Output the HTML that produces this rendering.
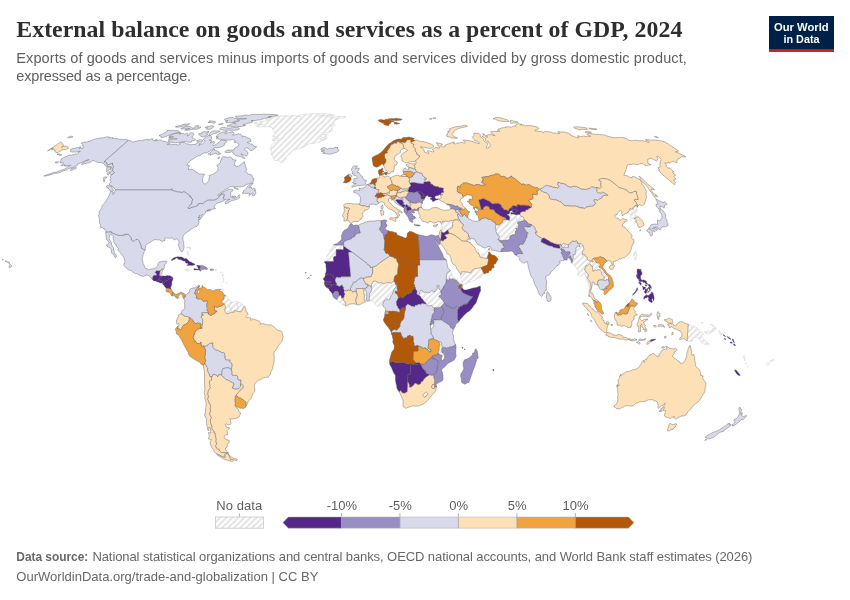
<!DOCTYPE html>
<html lang="en"><head><meta charset="utf-8"><title>External balance on goods and services as a percent of GDP, 2024</title>
<style>
html,body{margin:0;padding:0;background:#fff;}
body{width:850px;height:600px;overflow:hidden;position:relative;font-family:"Liberation Sans",sans-serif;}
svg{position:absolute;left:0;top:0;display:block;will-change:transform;transform:translateZ(0)}
text{font-family:"Liberation Sans",sans-serif;fill:#5b5b5b}
.title{font-family:"Liberation Serif",serif;font-weight:bold;font-size:23.8px;fill:#2e2e2e}
.sub{font-size:14.5px;fill:#606060}
.foot{font-size:13px;fill:#686868}
.leg{font-size:13px;fill:#5e5e5e}
.logo{font-weight:bold;font-size:11.4px;fill:#fff}
.c0 path{fill:#542788}.c1 path{fill:#998ec3}.c2 path{fill:#d8daeb}.c3 path{fill:#fee0b6}.c4 path{fill:#f1a340}.c5 path{fill:#b35806}
.nd path{fill:url(#hatch)}
#map path{stroke:#555;stroke-width:.4;stroke-linejoin:round}
#map .nd path{stroke:#cfcfcf;stroke-width:.5}
</style></head><body>
<svg width="850" height="600" viewBox="0 0 850 600">
<defs>
<pattern id="hatch" patternUnits="userSpaceOnUse" width="18" height="18"><rect width="18" height="18" fill="#fff"/><path d="M2.00,-2L-2,2.00M8.00,-2L-2,8.00M14.00,-2L-2,14.00M20.00,-2L-2,20.00M26.00,-2L-2,26.00M32.00,-2L-2,32.00M38.00,-2L-2,38.00" stroke="#e5e5e5" stroke-width="2" fill="none"/></pattern>
<pattern id="hatchL" patternUnits="userSpaceOnUse" width="18" height="18"><rect width="18" height="18" fill="#fff"/><path d="M2.00,-2L-2,2.00M8.00,-2L-2,8.00M14.00,-2L-2,14.00M20.00,-2L-2,20.00M26.00,-2L-2,26.00M32.00,-2L-2,32.00M38.00,-2L-2,38.00" stroke="#e5e5e5" stroke-width="2" fill="none"/></pattern>
</defs>
<rect width="850" height="600" fill="#fff"/>
<text class="title" x="16.3" y="37.4" textLength="666" lengthAdjust="spacing">External balance on goods and services as a percent of GDP, 2024</text>
<text class="sub" x="16.3" y="63.4" textLength="670.5" lengthAdjust="spacing">Exports of goods and services minus imports of goods and services divided by gross domestic product,</text>
<text class="sub" x="16.3" y="81" textLength="174.8" lengthAdjust="spacing">expressed as a percentage.</text>
<g id="logo"><rect x="769" y="16" width="65" height="36" fill="#002147"/><rect x="769" y="49.2" width="65" height="2.8" fill="#ce261e"/>
<text class="logo" x="801.3" y="30.6" text-anchor="middle" textLength="54.6" lengthAdjust="spacingAndGlyphs">Our World</text>
<text class="logo" x="801.5" y="42.6" text-anchor="middle" textLength="36" lengthAdjust="spacingAndGlyphs">in Data</text></g>
<g id="map">
<g class="nd"><path d="M450.3,270.3L452.4,275.5L453.7,277.6L454.6,278.1L457.2,279.4L460.1,282.8L461.7,284.1L461,284.8L460,284.5L459.2,283.7L458.2,282.2L457.2,281.3L456.5,280.4L454.5,279.4L452.9,279.3L452.3,278.8L451,279.4L449.6,278.2L449,280.2L446.3,279.6L446,278.6L446.8,274.7L446.9,273L447.6,272.2L449.3,271.8Z"/><path d="M380.3,305.8L379.4,305.5L378.4,306.3L376.6,306.1L375.4,304.5L374.5,302.7L372.9,300.8L371.3,300.8L369.2,300.9L369.3,296.7L369.3,295.1L369.7,293.4L370.4,292.6L371.5,291L371.3,290.3L371.7,289.3L371.3,286.8L371.4,284.5L372.1,283.4L372.4,282L373,281.4L375.4,281.1L377.8,282.1L378.6,283L379.8,283.1L380.9,282.5L383.6,283.8L384.8,283.7L386.1,282.6L387.5,282.7L388.2,282.3L389.4,282.5L391.2,283.2L392.9,281.8L394.1,281.5L395.5,283.1L395.5,283.9L395.5,284.8L396.4,285.7L396.2,286.2L396.1,287.1L394.1,289.1L393.6,290.8L393.3,292.1L392.8,292.7L392.3,294.5L391.1,295.6L390.7,296.9L390.2,298L390,299.1L388.5,300L387.2,298.9L386.3,298.9L384.9,300.5L384.3,300.5L383.2,303L382.6,304.8Z"/><path d="M367.3,301.3L365.4,301.8L364.9,300.9L364.3,299.3L364.1,297.9L364.6,295.6L364.1,294.6L363.9,292.6L363.8,290.7L362.9,289.3L363,288.5L365.1,288.6L364.8,290L365.5,290.7L366.3,291.6L366.4,292.9L366.8,293.5L366.7,299.5Z"/><path d="M342.3,304.8L340.2,302.7L338.2,301.3L336.7,299.6L337.2,298.7L337.3,298L338.4,296.6L339.5,295.3L340.2,295.1L340.6,295L341.5,296.6L341.4,297.6L341.8,298.2L342.5,298.2L342.9,297.2L343.6,297.2L343.5,298L343.7,299.3L343.2,300.4L343.9,301.1L344.6,301.3L345.6,302.4L345.6,303.4L345.4,303.7L345.2,305.9Z"/><path d="M324.4,262.4L324.5,261.3L324.7,260.1L325.5,259.4L326.3,258.1L326.2,257.2L327,255.3L328.3,253.7L329.1,253.3L329.7,251.7L329.8,250.3L330.7,248.7L332.2,247.8L333.6,245.1L343.7,245.1L343.6,246L343.5,249.7L336.2,249.6L336.1,256.3L334,256.5L333.4,257.8L333.8,261.6L324.9,261.6Z"/><path d="M427.4,392.9L428.1,393.7L427.3,395L426.9,395.8L425.6,396.3L425.2,397.1L424.3,397.4L422.8,395.3L424.1,393.7L425.4,392.7L426.5,392.1Z"/><path d="M439,353.8L437.8,353.1L438.6,350.7L439.3,349.8L438.9,347.6L439.5,345.5L439.9,344.8L439.3,342.6L438.3,341.4L440.5,341.9L441,342.6L441.7,343.8L442.3,347.4L441.6,349.4L442.1,352.8L442.9,352.7L443.7,353.6L444.6,355.5L444.6,358.8L443.6,359.4L442.8,361.2L441.4,359.6L441.3,357.7L441.9,356.5L441.8,355.5L440.9,354.8L440.2,355Z"/><path d="M430.6,329.1L430.5,325.9L429.9,324.7L431.3,324.9L432.1,323.4L433.3,323.6L433.4,324.6L433.9,325.2L433.9,326.1L433.3,326.6L432.4,328L431.6,328.9Z"/><path d="M441.4,306.2L440,307.4L438.4,307.4L436.5,308L435,307.4L434.1,308.1L432,306.4L431.5,305.3L430.2,305.8L429.1,305.7L428.5,306.1L427.5,305.8L426.1,303.6L425.7,302.8L424,301.8L423.3,300.2L422.4,299.1L420.8,297.7L420.8,296.8L419.5,295.8L417.9,294.8L418.6,294.5L419.4,294L419.9,291.7L420.6,290.5L422.2,290.1L422.6,290.8L423.8,292.4L424.5,292.6L425.3,292.1L426.9,292.2L427.3,292.7L429.6,292.7L429.6,292.2L430.8,291.7L431,291L431.9,290.4L433.8,291.9L435,291.7L436.1,289.8L437.3,288.4L437.1,286.8L436.5,286L437.9,285.9L438,285.3L439.1,285.5L438.9,287.4L439.2,289.3L440.4,290.3L440.7,291.2L441,292.3L441.1,294.6L440.8,295.4L439.6,295.5L438.8,297L440.2,297.2L441.4,298.4L441.8,299.5L442.9,300.1L444.3,302.9L442.8,304.6Z"/><path d="M225.6,295.4L227.1,296.4L228.4,298.1L228.5,299.5L229.3,299.5L230.5,300.8L231.4,301.7L231,304.1L229.6,304.7L229.7,305.3L229.2,306.7L230.2,308.6L230.9,308.6L231.5,310.7L232.6,312.3L232,312.4L230.7,312.2L230,312.9L228.9,313.4L228.2,313.5L227.9,314L226.8,313.9L225.4,312.6L225.2,311.4L224.7,310.1L225.1,307.9L225.7,307L225.2,305.8L224.5,305.4L224.8,304.2L224.3,303.6L223.1,303.7L221.6,301.7L222.2,301L222.2,299.8L223.6,299.4L224.2,298.9L223.5,297.9L223.7,297Z"/><path d="M231.4,301.7L234.1,302.2L234.4,301.8L236.3,301.5L238.7,302.3L237.5,304.5L237.6,306.3L238.5,307.8L238.1,309L237.8,310.2L237.2,311.3L235.9,310.7L234.8,311L233.9,310.7L233.7,311.5L234,312L233.8,312.5L232.6,312.3L231.5,310.7L230.9,308.6L230.2,308.6L229.2,306.7L229.7,305.3L229.6,304.7L231,304.1Z"/><path d="M238.7,302.3L239.5,302.5L241.2,303.2L243.6,305.4L243.9,306.4L242.5,308.8L241.8,310.8L240.9,311.8L239.8,311.9L239.5,311.2L239,311.1L238.2,311.8L237.2,311.3L237.8,310.2L238.1,309L238.5,307.8L237.6,306.3L237.5,304.5Z"/><path d="M221.4,289.2L222.8,288.9L223.2,288.9L223.1,290.9L221.1,291.2L220.7,290.9L221.4,290.2Z"/><path d="M298.8,115.1L304,114.2L308.7,114.3L310.8,113.7L315.6,113.6L326.3,113.8L334.4,115L331.7,115.6L326.4,115.6L318.9,115.8L319.4,116.1L324.4,115.9L328.4,116.4L331.3,116L332.2,116.5L330.4,117.5L334.2,116.9L341.1,116.2L345.2,116.5L345.9,117.2L339.9,118.4L339,118.8L334.3,119.1L337.6,119.2L335.6,120.5L334.1,121.7L333.7,123.9L335.2,125.1L332.8,125.2L330.1,125.8L332.7,126.9L332.7,128.6L331,128.7L332.6,130.5L329.1,130.7L330.7,131.5L330.1,132.2L327.8,132.6L325.5,132.6L327.2,134L327,134.9L324,134L323.1,134.6L325.1,135.1L327,136.4L327.2,138.2L324.2,138.6L323.1,137.8L321.4,136.5L321.6,138L319.4,139.1L323.7,139.2L326,139.3L321.1,141.2L316.2,143L311,143.7L309.2,143.8L307.2,144.6L304.1,147L299.9,148.6L298.7,148.7L296.2,149.2L293.6,149.8L291.6,151.2L291,152.8L289.7,154.3L286.1,156.2L286.3,158L284.8,160L283.1,162.3L280.5,162.5L278.4,160.5L274.8,160.5L273.5,159.2L273.1,156.9L271.2,154L270.9,152.5L271.5,150.4L270,148.3L271.4,146.6L270.6,145.9L273.5,143.2L276.4,142.4L277.5,141.5L278.6,139.8L276.3,140.6L275.3,140.9L273.6,141.2L271.9,140.5L272.5,139L273.8,137.8L275.3,137.8L278.4,138.4L276.2,137L275.2,136.3L273.4,136.6L272.3,136.1L275.2,134.1L274.6,133.3L274.2,131.8L273.6,129.7L272.1,128.9L272.7,128L269.4,126.9L266.2,126.7L262.1,126.8L258.3,126.9L257,126.3L255.4,125.1L259.9,124.5L263,124.4L257,123.9L254.3,123.1L255.3,122.3L261.7,121.4L267.8,120.5L269,119.9L265.7,119.2L267.5,118.5L273.5,117.4L275.7,117.2L275.7,116.5L279.4,116L283.9,115.8L288.1,115.8L289.3,116.3L293.6,115.4L296.5,116L298.3,116.1L300.9,116.6L298.1,115.8Z"/><path d="M186.7,269L188.2,269.2L189.4,269.9L189.7,270.6L188.1,270.6L187.3,271.1L186.1,270.6L184.9,269.7L185.3,269.1L186.2,268.9Z"/><path d="M187.5,251.5L188.2,251.5L188.8,253.8L187.9,255.4L186.8,253Z"/><path d="M189.1,247L190.8,247.8L190.1,249.6L190,248.1L188.6,247.6Z"/><path d="M186.6,247.3L188.9,247.4L188.5,247.9L186.5,247.9Z"/><path d="M440,230.9L440.5,228.7L441.4,226.8L442.4,226.9L442.9,228L441.8,229L441.4,230.4L440.9,230.4L440.7,230.9Z"/><path d="M441.6,231.3L441.4,230.4L441.8,229L442.9,228L442.4,226.9L441.4,226.8L441,224.8L441.4,223.7L441.9,223.2L442.4,222.6L442.3,221.1L443.1,221.7L445.4,220.9L446.6,221.4L448.3,221.4L450.7,220.4L451.8,220.5L454.2,220.1L453.4,221.7L452.3,222.3L452.8,224.2L452.4,227.4L447.9,230.1L443.9,232.9L441.4,231.9Z"/><path d="M637.5,207.1L637,207L636.6,207.8L636.4,208.7L637.6,210.6L636.8,211.1L636.6,211.6L636.3,212.4L635.1,212.8L634.5,213.5L635,214.6L634.9,214.9L636,215.3L637.8,216.5L637,217.3L635.5,217.4L635.2,218.6L634.2,218.5L634.2,218.7L632.9,218.2L632.9,218.7L632.4,218.9L632.1,218.4L631.4,218.2L630.6,217.8L630.7,216.6L631,216.3L630.6,215.9L630.4,214.4L630.1,214L628.7,213.7L627.3,213L628.2,211.4L629.8,210L630.2,208.1L631.7,209L633.6,209.1L632.5,207.7L635.1,206.6L635,205.1L637.3,206.6Z"/><path d="M589.4,291.4L589,289.4L589.5,287.4L588.6,285.9L588.5,283L587.5,281.7L586.4,278.5L585.6,275.2L584.3,273.1L583,274.4L580.6,276.3L579.3,276L577.8,275.4L578.2,272.2L577.4,269.7L575.2,266.7L575.4,265.8L574,265.4L572.1,263.3L571.6,261.2L572.5,261.6L572.2,259.7L573.3,259.1L572.9,258L573.3,257.1L572.9,254.4L574.8,255L575.4,252.8L575.3,251.6L576.1,249.4L575.7,247.9L578.3,246.1L580,246.6L579.4,244.9L580.1,244.5L579.7,243.5L580.9,243.3L582.1,244.8L583.2,245.4L583.7,247.5L584,249.6L582.3,251.8L582.6,254.9L584.9,254.5L585.9,256.9L587.4,257.4L587,259.5L588.9,260.5L589.9,261L591.5,260.2L590.1,263L589.7,264L588.5,264.6L587.4,265.7L585.8,265.8L585.2,268.6L584.3,269.1L585.7,271.4L587.4,273.3L588.5,275L588,277.3L587.3,277.8L587.9,279.1L589.7,281.2L590.1,282.6L590.2,283.9L591.3,286.2L590.3,288.7Z"/><path d="M469.3,239L469.9,240.2L469.7,240.7L470.7,242.7L469.1,242.8L468.4,241.6L466.4,241.3L467.8,238.8Z"/><path d="M477.1,252.7L476.8,250.7L477.2,249.4L477.8,249.1L478.6,249.9L478.8,251.4L478.5,253L477.8,253.2Z"/><path d="M479,254L479.4,253.9L479.5,254.6L481.2,254.1L483.1,254.2L484.5,254.3L485.8,252.5L487.3,250.8L488.6,249.2L489.1,250.1L489.6,252.2L488.5,252.2L488.5,253.9L488.9,254.3L487.9,254.8L488,255.9L487.5,256.9L487.5,258L487.1,258.5L480.2,257.2L479.1,254.6Z"/><path d="M484,273.8L482.4,274.5L482.1,275.7L482.1,276.6L479.9,277.6L476.3,278.9L474.3,280.7L473.3,280.9L472.6,280.7L471.4,281.8L469.9,282.3L468,282.4L467.5,282.6L467,283.3L466.4,283.5L466.1,284.1L464.9,284.1L464.2,284.4L462.6,284.3L461.9,282.8L461.9,281.3L461.5,280.6L461,278.6L460.3,277.6L460.8,277.4L460.4,276.2L460.7,275.7L460.5,274.6L461.5,273.8L461.2,272.7L461.7,271.4L462.7,272.1L463.3,271.8L465.9,271.8L466.4,272L468.6,272.3L469.4,272.2L470.1,273L471.1,272.6L472.5,269.8L474.6,268.7L481.1,267.7L483.2,272Z"/><path d="M497.9,239.4L499.5,237L499,235.3L497.3,234.9L496.8,233.2L495.7,231.2L496.4,229.7L495.4,229.3L495.6,227.4L495.8,224.2L498.2,225.2L499.8,224.8L500,223.6L501.6,223.2L502.6,222.5L502.6,220.4L504.3,219.9L504.4,218.9L505.6,219.7L506.2,219.7L507.4,219.7L509.2,220.3L509.9,220.6L511.3,219.8L512.1,220.3L512.5,219.1L513.8,219.1L514,218.7L514,217.7L514.7,216.8L516,217.4L516,218.2L516.7,218.3L517,220.5L518.1,221.3L518.7,220.8L519.6,220.5L520.6,219.4L522.2,219.6L524.4,219.6L524.7,220.1L524.8,220.4L523.8,220.6L522.9,221.1L520.5,221.4L518.3,221.9L517.3,223.1L518.1,224.2L518.7,225.5L517.9,226.6L518.2,227.6L517.8,228.5L515.7,228.4L517,230.2L515.7,230.8L515.1,232.4L515.6,234L514.9,234.7L514,234.5L512.4,234.8L512.3,235.5L510.6,235.5L509.7,237L510,239.2L507.3,240.3L505.7,240.1L505.4,240.7L504,240.3L501.8,240.7Z"/><path d="M524.4,219.6L522.2,219.6L520.6,219.4L519.6,220.5L518.7,220.8L518.1,221.3L517,220.5L516.7,218.3L516,218.2L516,217.4L514.7,216.8L514,217.7L514,218.7L513.8,219.1L512.5,219.1L512.1,220.3L511.3,219.8L509.9,220.6L509.2,220.3L509.7,217.6L508.8,215.7L507,215.1L507.3,214L509.1,214.1L509.7,212.6L509.9,211L512.5,210.4L512.4,211.6L513,212.3L513.8,212.2L513.3,213L510.8,212.6L511,214.1L513.3,213.9L516.2,214.7L520.1,214.3L521.3,216.7L522,216.5L523.4,217.1L523.7,218.1Z"/><path d="M591.5,260.2L591.7,261.3L592,261.9L593.2,262L592.4,259L593.5,258.6L595.2,260.7L596.6,263L599.4,263.1L600.6,265.3L599.3,266.1L598.8,267L601.7,268.5L604.1,271.6L605.9,273.9L607.8,275.7L608.6,277.6L608.5,280.2L606.4,279.2L605.6,281L603.6,280L604.2,278.9L604,276.6L601.9,274.4L601.4,271.8L599.3,269.7L597.6,269.5L597.2,270.4L595.9,270.5L595.2,270L593,271.6L592.6,269.2L592.8,266.5L591.2,266.3L590.8,264.8L589.7,264L590.1,263Z"/><path d="M561.3,246L562.3,244.1L563.4,243.4L565.1,244L566.3,244.1L567.4,244.8L568.5,245.6L568.7,247.2L566.9,247.3L565,247.1L563.6,247.5L561.4,246.5Z"/><path d="M636.7,253.6L636.2,257.8L635.7,259.9L634.1,257.7L633.4,255.8L634.2,253.2L635.6,251.2L636.8,252Z"/><path d="M688.2,324.1L692.1,325.9L696.3,327.4L697.8,328.7L699,330L699.3,331.6L703,333.2L703.5,334.6L701.3,334.9L701.7,336.6L703.6,338.3L704.8,341.1L706.2,341L706,342.1L707.7,342.6L706.9,343.1L709.3,344.2L708.9,344.9L707.4,345.1L706.9,344.4L704.9,344.2L702.7,343.8L701.1,342.1L699.9,340.7L698.9,338.4L696,337.2L694,338L692.5,338.8L692.6,340.8L690.8,341.7L689.5,341.2L687.1,341.1Z"/><path d="M714.1,328.6L714,330L713.1,331.6L711.9,331.8L711.5,332.6L710.2,333.2L708.9,333.8L707.7,333.8L705.9,333.1L704.6,332.3L704.9,331.5L706.9,331.9L708.2,331.7L708.9,330.4L709.1,331.7L710.4,331.6L711.1,330.6L712.5,329.7L712.3,328.2L713.7,328.1Z"/><path d="M710.5,324.5L713.1,325.1L714.1,325.8L715.8,327.7L715.9,329.1L715.2,329.8L714.8,328.2L714.4,327.2L713.4,326.3L712.1,325.2Z"/><path d="M719.5,331.2L720.2,331.8L721.2,333.5L722.2,334.4L721.8,335.1L721.2,335.4L720.2,334.4L719.4,332.7L719,330.7L719.3,330.5Z"/><path d="M701.2,322.5L703,322.5L702.5,323.2L701.2,323Z"/><path d="M744.5,358.8L745.6,360.3L744.8,360.7L744.3,359.5Z"/><path d="M743.6,358.2L743.5,357.5L743.8,355.5L744.8,356.3L744.7,358.4L744.2,358.1Z"/><path d="M745.8,363L746.6,363.5L745.8,363.9Z"/><path d="M747.3,366.1L747.7,366.7L746.9,366.8Z"/><path d="M769.1,362.6L769.7,363.4L768.9,364.7L767.4,365.1L766.3,364.7L766.4,363.6L767.4,362.7L768.4,363Z"/><path d="M770,360.8L771.3,360.2L772,360.1L773.6,359.3L773.3,360.6L771.7,361.2L770.1,361.7Z"/><path d="M378,316.3L378.6,316.5L378.2,317.2L377.9,316.8Z"/><path d="M223.4,278.4L224.1,278.8L223.9,279.7L223.3,279.4Z"/><path d="M222.1,274.7L223.5,274.3L223.2,275.5L222.2,275.6Z"/><path d="M222.7,276.6L223.2,276.7L223,277.5L222.8,277.5Z"/><path d="M223.3,280.6L223.7,280.7L223.5,281.5L223.2,281.3Z"/><path d="M226.5,282.6L226.9,282.8L226.8,283.2L226.4,283.1Z"/><path d="M222.7,282.4L223.1,282.6L223,283.1L222.7,283Z"/><path d="M221.4,285.4L221.8,285.4L221.7,286L221.3,286Z"/><path d="M215.5,269.2L216.2,269.2L215.8,271.1Z"/><path d="M219.8,271.9L220.5,272.1L220.4,272.6Z"/><path d="M222,272.5L222.6,272.6L222.4,272.9Z"/></g>
<g class="c0"><path d="M462,287.4L464,289.9L466.3,289.9L469.7,289.1L473.1,288L476.5,287.5L479.5,286.2L480.5,286.3L480.3,289.6L481,290.1L479.7,292.5L478.5,295.9L477.4,299L475.9,302.9L473.6,305.8L471.4,308.9L469.1,311.3L467.5,312.1L464.5,314.7L461.8,317.8L459.9,319.7L458.9,321.7L457.6,319.5L457.5,310L459.5,307.1L460.1,306.3L461.6,306.2L463.6,304.3L466.6,304.2L472.9,296.4L471,296.4L463.4,293.3L462.5,292.4L461.6,291.1L460.7,289.7L461.2,288.8Z"/><path d="M399.3,392L397.8,389.9L396.9,388.1L396.6,385.5L396,383.6L395.4,379.7L395.5,376.6L395.3,375L394.4,374L393.3,371.9L392,368.8L390.7,366.1L389.8,364.6L389.7,362.5L390.8,362L392.2,361.5L393.7,361.6L395,362.8L395.3,362.6L404.6,362.5L406.1,363.8L411.6,364.1L415.8,363.1L417.7,362.5L419.2,362.6L420.1,363.2L420.5,363.8L418.8,364L418.1,364L416.6,365L415.8,364L412.2,364.9L410.5,365L410.2,374.3L407.9,374.4L407.7,381.1L407.7,382L407.7,382.9L407.3,391.6L405.2,393L404,393.2L402.7,392.7L401.7,392.5L401.3,391.4L400.5,390.6Z"/><path d="M342.9,297.2L342.5,298.2L341.8,298.2L341.4,297.6L341.5,296.6L340.6,295L340.2,295.1L339.5,295.3L338.8,295.4L338.9,294.5L338.5,293.8L338.6,293.1L338.1,292L337.5,291L335.6,291L335.1,291.5L334.4,291.6L334.1,292.2L333.8,292.9L332.5,294.1L331.5,292.5L330.7,291.5L330.1,291.2L329.5,290.7L329.3,289.5L328.3,288.5L329.3,287.2L330,287.2L330.6,286.8L331.1,286.8L331.5,286.5L331.3,285.6L331.6,285.3L331.6,284.4L332.7,284.4L334.4,285.1L334.9,285L335,284.7L336.3,284.9L336.6,284.8L337.1,285.7L337.7,285.4L338.1,285.5L338.7,286.2L339.7,286.4L340.3,285.8L341.1,285.5L341.6,285.1L342.1,285.1L342.6,285.7L342.8,286.5L343.8,287.5L343.3,288.2L343.2,289.1L343.7,288.8L344,289.1L343.9,289.9L344.6,290.6L344.1,291L343.9,291.7L344.4,292.8L345,294.9L344.1,295.2L343.9,295.6L344.1,296.1L344,297.2L343.6,297.2Z"/><path d="M328.3,288.5L327.1,287.4L326.1,287.2L325.6,286.5L325.6,286.1L325,285.5L324.8,285L326,284.5L326.8,284.6L327.4,284.3L331.6,284.4L331.6,285.3L331.3,285.6L331.5,286.5L331.1,286.8L330.6,286.8L330,287.2L329.3,287.2Z"/><path d="M324.8,285L324.4,283L326.5,283L327.1,282.6L327.5,282.6L328.4,282L329.3,282.6L330.3,282.6L331.3,282L330.9,281.3L330.1,281.7L329.4,281.7L328.5,281L327.8,281.1L327.3,281.7L324.8,281.8L323.9,279.7L322.8,278.9L323.7,278.4L324.9,276.6L325.5,275.1L325.3,273.8L326.3,274.3L327.4,274.5L328.5,274L329.8,273.9L330.9,274.7L332.3,275.4L333.7,277.3L335.2,279.1L335.3,280.8L335.7,282.2L336.6,283L336.7,284L336.6,284.8L336.3,284.9L335,284.7L334.9,285L334.4,285.1L332.7,284.4L331.6,284.4L327.4,284.3L326.8,284.6L326,284.5Z"/><path d="M324.4,283L324.8,281.8L327.3,281.7L327.8,281.1L328.5,281L329.4,281.7L330.1,281.7L330.9,281.3L331.3,282L330.3,282.6L329.3,282.6L328.4,282L327.5,282.6L327.1,282.6L326.5,283Z"/><path d="M325.3,273.8L326,272.5L326.3,270L326.1,267.4L325.9,266.1L326.1,264.8L325.6,263.6L324.4,262.4L324.9,261.6L333.8,261.6L333.4,257.8L334,256.5L336.1,256.3L336.2,249.6L343.5,249.7L343.6,246L352,252.1L348.5,252.1L349.5,263.4L350.5,274.6L350.9,275L350.4,276.8L341.2,276.8L340.9,277.4L340,277.3L338.7,277.8L337.1,277L336.4,277.1L336,278.6L335.2,279.1L333.7,277.3L332.3,275.4L330.9,274.7L329.8,273.9L328.5,274L327.4,274.5L326.3,274.3Z"/><path d="M398.7,297.7L400.5,297.1L400.9,297.1L401.4,297.7L404.3,296.7L405.3,295.7L406.5,294.8L406.2,293.8L406.9,293.6L409.1,293.8L411.3,292.5L412.9,289.7L414,288.6L415.4,288.2L415.7,289.3L417.1,290.9L417.1,292L416.8,293.1L416.9,293.9L417.7,294.7L417.9,294.8L419.5,295.8L420.8,296.8L420.8,297.7L422.4,299.1L423.3,300.2L424,301.8L425.7,302.8L426.1,303.6L425.3,303.9L423.8,303.8L422.1,303.6L421.2,303.8L420.9,304.4L420.2,304.5L419.2,304L416.7,305.3L415.6,305L415.3,305.2L414.7,306.8L412.9,306.3L411.2,306L409.8,305L407.9,304.2L406.6,305L405.7,306.3L405.5,308.2L404.1,308L402.5,307.6L401.1,308.9L399.9,311.4L399.7,310.6L399.6,309.4L398.5,308.6L397.7,307.2L397.5,306.3L396.4,304.9L396.5,304.2L396.3,303.1L396.5,301L397,300.6L398.2,297.9Z"/><path d="M407.7,381.1L407.9,374.4L410.2,374.3L410.5,365L412.2,364.9L415.8,364L416.6,365L418.1,364L418.8,364L420.5,363.8L421.3,365.7L421.7,366.2L422.4,367.7L424.8,370.6L425.8,370.8L425.7,371.8L426.3,373.4L428.1,373.8L429.4,375L426.2,376.9L424.1,378.9L423.2,380.6L422.5,381.6L421.3,381.8L420.8,383L420.5,383.9L419.1,384.5L417.3,384.4L416.2,383.6L415.3,383.3L414.2,383.9L413.6,385.2L412.5,385.9L411.3,387.1L409.7,387.4L409.2,386.5L409.5,384.9L408.3,382.4L407.7,382Z"/><path d="M160.1,275.8L160.8,276.3L161,275.9L161.7,276.2L160.5,277.2L159.4,277.9L159.1,278.5L159.3,279L158.7,279.6L158.2,279.8L158.3,280.1L157.8,280.4L157,281L156.9,281.4L155.7,281L154.3,280.9L153.3,280.4L152.2,279.3L152.3,278.6L152.7,278L152.4,277.5L153.7,275.3L156.7,275.3L156.8,274.4L156.5,274.3L156.3,273.7L155.5,273.1L154.8,272.2L155.8,272.2L156,270.8L158.1,270.8L160.2,270.8L159.4,275.8Z"/><path d="M161.7,276.2L161.9,276.3L162.5,275.9L163.1,275.8L163.3,276L163.7,275.9L164.7,276.1L165.8,276.1L166.5,275.8L166.8,275.5L167.5,275.6L168.1,275.8L168.7,275.7L169.2,275.5L170.1,275.9L170.5,275.9L171.2,276.4L171.8,277L172.5,277.4L173.1,278.1L172.3,278.1L171.9,278.4L171.1,278.8L170.5,278.8L170,279.1L169.6,279L169.2,278.6L169,278.7L168.6,279.3L168.4,279.3L168.3,279.8L167.4,280.5L167,280.8L166.7,281.1L166.1,280.6L165.5,281.3L165.1,281.3L164.5,281.4L164.5,282.7L164.1,282.7L163.8,283.3L163,283.4L162.7,282.6L162.1,282.4L162.3,281.3L162,281L161.6,280.8L160.6,281.1L160.5,280.8L159.8,280.4L159.4,279.8L158.7,279.6L159.3,279L159.1,278.5L159.4,277.9L160.5,277.2Z"/><path d="M172.9,278.4L172.7,279L172.8,279.9L172.2,280.8L171.9,281.9L171.7,283L171.8,283.7L171.7,284.9L171.4,285.1L171.1,286.2L171.2,286.9L170.6,287.6L170.7,288.3L171,288.7L170.4,289.3L169.8,289.1L169.4,288.6L168.7,288.4L168.2,288.7L166.7,288L166.3,288.3L165.6,287.5L164.6,286.5L164.2,285.6L163.3,284.8L162.2,283.6L162.3,283.5L162.5,283.2L162.8,283.4L162.9,283.6L163,283.4L163.8,283.3L164.1,282.7L164.5,282.7L164.5,281.4L165.1,281.3L165.5,281.3L166.1,280.6L166.7,281.1L167,280.8L167.4,280.5L168.3,279.8L168.4,279.3L168.6,279.3L169,278.7L169.2,278.6L169.6,279L170,279.1L170.5,278.8L171.1,278.8L171.9,278.4L172.3,278.1L173.1,278.1Z"/><path d="M162.1,282.4L161.8,283L160.4,282.9L159.6,282.7L158.7,282.1L157.5,282L156.9,281.4L157,281L157.8,280.4L158.3,280.1L158.2,279.8L158.7,279.6L159.4,279.8L159.8,280.4L160.5,280.8L160.6,281.1L161.6,280.8L162,281L162.3,281.3Z"/><path d="M177.6,256.7L179.6,256.9L181.3,256.9L183.3,257.8L184.1,258.8L186.2,258.5L187,259.1L188.7,260.7L190,261.9L190.7,261.9L192,262.4L191.7,263.1L193.4,263.3L195,264.3L194.6,264.9L193.1,265.3L191.6,265.4L190,265.2L186.7,265.4L188.4,264L187.6,263.3L186.1,263.1L185.5,262.4L185.1,260.9L183.8,261L181.8,260.3L181.2,259.7L178.3,259.3L177.6,258.8L178.5,258.2L176.3,258L174.5,259.4L173.6,259.4L173.2,260.1L172,260.4L171.1,260.1L172.4,259.3L173,258.3L174.1,257.8L175.3,257.3L177.1,257Z"/><path d="M197.1,265.3L200.4,265.8L200.4,267.2L200.2,268.2L199.5,268.7L200.1,269.4L199.9,270.2L198.5,269.7L197.4,269.9L196,269.7L194.9,270.2L193.8,269.4L194.1,268.6L196.1,268.9L197.8,269.1L198.7,268.5L197.8,267.4L197.9,266.4L196.5,266Z"/><path d="M401.7,206.4L401.9,206L402.1,204.6L402.7,204L403.1,203.8L403.7,204.2L404,204.6L404.7,204.8L405.4,205.6L405.1,206.2L404.5,206.4L404.4,205.9L403.6,207.2L403.8,208L403.3,207.8L402.7,207L401.8,206.5Z"/><path d="M440.6,240.6L440.5,240.3L441.2,236.1L441,235L441.3,234.3L441.1,232.7L441.4,231.9L443.9,232.9L447.9,230.1L449.2,233.3L448.8,233.7L444.5,235L447,237.6L446.3,238.1L446.1,238.9L444.4,239.3L444,240.2L443.1,241Z"/><path d="M439.4,194.8L438.2,195.6L436.3,195.7L434.7,196.7L435.1,198.3L436.2,198.9L438.3,198.7L438.1,199.7L435.9,200.1L433.3,201.6L432.1,201.1L432.4,199.9L430,199.1L430.3,198.6L432.1,197.8L431.4,197.2L428.1,196.5L427.8,195.6L426,195.9L425.4,197.3L424.1,199.2L423.1,198.8L422.2,199.2L421.2,198.7L421.7,198.4L421.9,197.5L422.4,196.7L422.2,196.3L422.6,196.1L422.8,196.4L424,196.5L424.5,196.3L424.1,196L424.2,195.7L423.4,195L423,193.9L422.1,193.5L422.2,192.7L421.1,192L420.3,191.9L418.7,191.1L417.4,191.3L416.9,191.7L416.1,191.7L415.7,192.3L414.2,192.6L413.6,192.9L412.5,192.3L411.2,192.3L409.9,192L409.1,192.6L408.9,191.9L407.7,191.2L408,190.2L408.5,189.5L408.7,189.2L408.3,188.5L409.8,186.4L410.8,186.1L410.9,185.4L409.6,183.2L410.5,183.1L411.5,182.5L413,182.4L415,182.6L417.3,183.2L418.9,183.3L419.7,183.6L420.4,183.2L421,183.8L422.8,183.6L423.6,183.9L423.5,182.6L424,182.1L425.7,181.9L426.4,182L426.8,181.5L427.5,181.6L429.4,181.3L431,182.8L430.6,183.3L430.9,184L432.5,184.2L433.5,185.3L433.5,185.7L436.2,186.6L437.7,186.2L439.2,187.4L440.3,187.4L443.5,188.2L443.6,189L443.1,190.3L443.9,191.7L443.7,192.5L441.8,192.7L440.9,193.4L441,194.6Z"/><path d="M509.2,220.3L507.4,219.7L506.2,219.7L505.9,218.1L502.8,217L500.2,215.7L498.5,214.5L495.6,212.7L493.9,210.1L493,209.6L490.8,209.7L489.8,209.2L489.1,207.1L485.9,205.7L484.5,207.2L482.9,208.1L483.6,209.4L481.2,209.5L478.7,199.9L483.5,198.4L484,198.7L487.7,200.5L489.7,201.5L492.4,203.8L494.7,203.4L498.2,203.2L501.3,205.1L501.9,207.7L503,207.7L504,209.8L506.7,209.9L507.7,211.1L508.4,211.1L508.8,209.3L511,207.5L512.1,207L512.8,207.2L511.6,208.9L513.4,209.9L514.7,209.3L517.7,210.6L515.5,212.5L513.8,212.2L513,212.3L512.4,211.6L512.5,210.4L509.9,211L509.7,212.6L509.1,214.1L507.3,214L507,215.1L508.8,215.7L509.7,217.6Z"/><path d="M513.8,212.2L515.5,212.5L517.7,210.6L514.7,209.3L513.4,209.9L511.6,208.9L512.8,207.2L512.1,207L512.2,205.9L513.5,205.5L517.2,206.4L517,204.9L518,204.3L521.4,205.4L522,205.1L525.5,205.2L528.7,205.5L530.1,206.4L531.6,206.8L531.5,207.4L528.6,208.8L528.2,209.8L525.6,210.1L525.4,211.7L523,211.4L521.7,211.9L520.1,213.1L520.1,214.3L516.2,214.7L513.3,213.9L511,214.1L510.8,212.6L513.3,213Z"/><path d="M559.4,244.5L559.5,245.6L560.1,247.3L560,248.3L558.2,248.3L555.4,247.7L553.6,247.5L552.1,246.2L548.9,245.8L545.7,244.3L543.4,243.1L541,242.1L541.4,239.6L542.6,238.5L543.3,237.8L545.3,238.6L547.9,240.3L549.2,240.7L550.2,242L552.1,242.5L554.1,243.6L556.7,244.2Z"/><path d="M411.5,209.4L411.1,209.5L410.8,209.9L409.6,209.9L408.9,210.5L407.5,210.7L406.6,210L406.2,208.9L406.4,208L406.7,207.6L407.9,207.1L408.3,207L410,206.9L411.1,207.7Z"/><path d="M406.1,207.1L405.1,206.2L405.4,205.6L405.9,205.4L406.1,204.5L406.5,204.4L406.8,204.8L407.2,204.9L407.5,205.3L407.9,205.5L408.3,205.9L408.7,205.9L408.5,206.5L408.2,206.9L408.3,207L407.9,207.1L406.7,207.6L406.4,208Z"/><path d="M403.6,203.5L403.1,203.8L402.7,204L402.1,204.6L401.9,206L400,205L399.1,203.9L398.3,203.4L397.2,202.4L396.7,201.6L395.6,200.4L396,199.4L396.7,199.9L397.1,199.4L398.1,199.4L399.9,199.8L401.3,199.7L402.3,200.3L403,200.7L402.7,201.4L403.8,202.4Z"/><path d="M421.2,198.7L420.7,197.5L420.7,196.4L420.5,195.3L419.1,193.8L418.3,192.7L417.6,192L416.9,191.7L417.4,191.3L418.7,191.1L420.3,191.9L421.1,192L422.2,192.7L422.1,193.5L423,193.9L423.4,195L424.2,195.7L424.1,196L424.5,196.3L424,196.5L422.8,196.4L422.6,196.1L422.2,196.3L422.4,196.7L421.9,197.5L421.7,198.4Z"/><path d="M650.3,340.5L650.6,339.9L652.6,339.3L654.2,339.2L655,338.9L655.8,339.2L654.9,339.9L652.4,341.1L650.4,341.8L650.5,341Z"/><path d="M729.8,342.5L731.5,341.9L732.5,343.1L731.6,343.2L730.2,342.9Z"/><path d="M733.1,339L733.7,341.1L734.5,342.4L734.1,342.8L732.6,340.6L732.3,339Z"/><path d="M727.4,336.4L730.2,338.2L730.7,339.1L730.7,339.6L729,338.5L727.8,337.5L727,336.7Z"/><path d="M723.4,334.5L724.7,335.6L725.5,336.5L725.1,336.6L724.1,336.1L723.2,335Z"/><path d="M734.3,343.9L735.2,344.7L735.7,345.6L734.1,345.6L733.4,343.9Z"/><path d="M724.1,338.2L725.5,338.7L726,339.8L724.9,339.5Z"/><path d="M638.7,269L640.2,269.7L640.8,269L641.1,269.7L640.9,270.8L642,272.7L641.8,274.8L640.5,275.7L640.5,277.8L641.3,279.9L642.6,280.2L643.5,279.8L646.6,281.3L646.5,282.7L647.4,283.3L647.3,284.5L645.3,283.3L644.3,281.9L643.8,282.8L642.2,281.3L640.2,281.7L638.9,281.1L638.9,280L639.5,279.3L638.8,278.7L638.6,279.7L637.3,278.2L636.8,277L636.3,274.6L637.4,275.4L637,271.3L637.3,269Z"/><path d="M653.6,295.3L654,297.1L654.2,298.5L653.6,300.9L652.6,298.3L651.6,299.6L652.4,301.5L651.9,302.7L649,301.2L648.3,299.3L648.9,298.1L647.4,296.8L646.7,297.9L645.6,297.8L644,299.3L643.6,298.5L644.3,296.3L645.7,295.6L646.9,294.6L647.8,295.8L649.5,295.1L649.8,293.9L651.4,293.8L651.1,291.8L653.1,293L653.4,294.4Z"/><path d="M637.1,287.6L637.8,289.7L636.4,291.2L635.3,293L632.4,295.4L633.4,293.6L635,292L636.2,290.2Z"/><path d="M650.6,285.5L651.6,288.4L649.8,287.8L649.9,288.6L650.6,290.2L649.6,290.8L649.3,289L648.6,288.9L648.1,287.3L649.5,287.5L649.3,286.5L647.7,284.5L649.9,284.5Z"/><path d="M642.4,286.2L643.9,287.1L645.4,287.1L645.4,288.1L644.5,289.2L643.1,290L642.9,288.8L642.9,287.5Z"/><path d="M644.1,291.9L644.6,291.2L645.1,290.5L645.2,288.9L646.4,288.7L646.2,290.5L647.7,288L647.7,290.4L646.9,291.3L646.4,293L645.7,293.7Z"/><path d="M638.4,282.1L640.3,282.2L641.3,283.2L640.9,285.4L639.8,284.1Z"/><path d="M647.4,292.2L648.7,290.9L649.2,291.7L647.9,292.4Z"/><path d="M645.3,284.6L647,285.4L646.4,286.2L645.4,286Z"/><path d="M738,372.4L739.4,374L740.3,375.2L739.2,375.8L738.2,375.1L736.9,373.9L735.8,372.5L734.8,370.7L734.7,369.8L735.6,369.9L736.7,370.7L737.4,371.6Z"/><path d="M462.1,347.1L462.8,347.3L462.7,348.4L462,348.1Z"/><path d="M464.3,348.9L465.1,349.2L465,349.7L464.3,349.4Z"/><path d="M492.9,369.5L494,369.8L493.8,370.7L492.9,370.8Z"/><path d="M308.7,277.3L309.4,278.1L309.3,278.4L308.6,278.1Z"/><path d="M307,278.5L307.5,278L307.5,278.6Z"/><path d="M305.4,272.6L306.1,272.4L306.1,273L305.4,273.2Z"/><path d="M310.7,275L311.2,275L311.2,275.6L310.6,275.5Z"/></g>
<g class="c1"><path d="M350.1,223.9L351.5,223.5L353.4,225.4L356.5,225.1L358.3,225.4L359.1,227.1L359.2,228.7L360,231.5L360.5,232L360.1,233L357.2,233.5L356.2,234.4L355,234.7L354.9,236.6L352.3,237.6L351.4,238.9L349.6,239.6L347.3,240L343.7,242L343.7,245.1L333.6,245.1L334.9,244.1L337,243.8L338.8,242L339.9,241.3L341.8,239.1L341.4,235.9L342.3,233.6L342.6,232.3L344,230.5L346.3,229.3L347.9,228.2L349.4,225.5Z"/><path d="M381.2,220.8L384.1,219.8L385.2,220.1L386.9,220.5L385.9,222.2L386,223.8L387.1,225.4L386.5,226.7L385.1,228.5L385.6,229.3L387.3,230.4L388.2,230.7L388.1,232.7L387.1,233.5L386.4,234.3L384.9,235.3L385.2,236.4L385,237.5L384,238.1L382.9,233.5L381.5,232.4L381.5,231.8L379.7,230.2L379.4,228.2L380.7,226.8L381.2,224.6L380.8,222.2Z"/><path d="M418.4,234.8L422.6,235.5L427,236.6L429.2,235.5L431.3,234.8L433.6,235.3L435.6,236.1L438.4,235.5L440.4,240.2L439.8,243.9L439.2,244.7L437.8,243.4L436.3,241.6L435.2,239.2L434.9,240.2L435.7,242.1L437.7,244.4L438.7,246.8L440.3,249.9L442.9,254.6L443.2,257L446.3,259.8L419.5,259.8L419.4,258.9L419,250.2L418.5,240.9L417.7,238.8L418.2,237.2L417.7,236.1Z"/><path d="M458.9,321.7L457.6,323L455.7,324.1L455.5,325.9L454.3,328L453.3,329.5L450.1,326.9L449.9,325.4L441.6,320.1L441.2,319.8L441.2,317L441.9,315.9L443,314.2L443.8,312.3L442.8,309.3L442.5,308L441.4,306.2L442.8,304.6L444.3,302.9L445.5,303.4L445.5,304.8L446.3,305.7L448,305.7L450.9,307.9L451.6,307.9L452.2,307.8L452.7,308.2L454.2,308.4L454.9,307.3L457,306.2L457.9,307.1L459.5,307.1L457.5,310L457.6,319.5Z"/><path d="M455.6,344.3L456.1,347.3L455.8,350.2L455.8,354.4L456.2,355.7L455.4,357.8L454,360.1L450.7,362L448.1,363.3L446.9,364.3L445.5,366.1L442.8,368.5L441.9,369L441.6,370.8L442.6,372.9L442.9,375L443,377.6L443.1,379.2L442.6,380.3L441.7,381.3L439.8,382.1L437,383.6L436.1,384.4L436.2,385.5L436.7,385.7L436.4,387.1L434.7,387.1L434.3,384.8L434.2,383.9L434.8,381L434.3,379.1L433.4,375.4L435.9,372.5L436.6,370.6L437,370.3L437.3,368.8L437,368L437.2,366.1L437.7,364.3L437.9,360.9L436.7,360.1L435.6,359.9L435.2,359.3L434.1,358.7L432.2,358.8L432.1,357.8L432,356L439,353.8L440.2,355L440.9,354.8L441.8,355.5L441.9,356.5L441.3,357.7L441.4,359.6L442.8,361.2L443.6,359.4L444.6,358.8L444.6,355.5L443.7,353.6L442.9,352.7L442.1,352.8L441.6,349.4L442.3,347.4L444,347.2L446.7,347.9L447.3,347.6L448.9,347.5L449.8,346.7L451.2,346.8L453.7,345.8Z"/><path d="M339.5,295.3L338.4,296.6L337.3,298L337.2,298.7L336.7,299.6L336.1,299.3L334.5,298.2L333.3,296.9L332.8,296L332.5,294.1L333.8,292.9L334.1,292.2L334.4,291.6L335.1,291.5L335.6,291L337.5,291L338.1,292L338.6,293.1L338.5,293.8L338.9,294.5L338.8,295.4Z"/><path d="M429.4,375L428.1,373.8L426.3,373.4L425.7,371.8L425.8,370.8L424.8,370.6L422.4,367.7L421.7,366.2L421.3,365.7L420.5,363.8L423,363.9L423.7,364.2L424.5,364.2L425.8,362.5L427.9,360.3L428.7,360.1L429,359.2L430.4,358.2L432.1,357.8L432.2,358.8L434.1,358.7L435.2,359.3L435.6,359.9L436.7,360.1L437.9,360.9L437.7,364.3L437.2,366.1L437,368L437.3,368.8L437,370.3L436.6,370.6L435.9,372.5L433.4,375.4L432.2,375.2L431.4,375.5L430.4,375Z"/><path d="M433.3,323.6L432.1,323.4L431.3,324.9L429.9,324.7L430.2,323.3L430.5,323.1L430.6,321.5L431.2,320.8L431.8,321.1L433.2,320.3L434.1,321.7L434,323.3Z"/><path d="M433.2,320.3L431.8,321.1L431.2,320.8L431.3,318.8L431.8,317.8L431.9,315.7L432.4,314.5L433.3,313.2L434.2,312.5L434.9,311.6L434,311.2L434.1,308.1L435,307.4L436.5,308L438.4,307.4L440,307.4L441.4,306.2L442.5,308L442.8,309.3L443.8,312.3L443,314.2L441.9,315.9L441.2,317L441.2,319.8L436.5,320L434,319.9Z"/><path d="M459.5,307.1L457.9,307.1L457,306.2L454.9,307.3L454.2,308.4L452.7,308.2L452.2,307.8L451.6,307.9L450.9,307.9L448,305.7L446.3,305.7L445.5,304.8L445.5,303.4L444.3,302.9L442.9,300.1L441.8,299.5L441.4,298.4L440.2,297.2L438.8,297L439.6,295.5L440.8,295.4L441.1,294.6L441,292.3L441.6,289.5L442.7,288.8L442.9,287.7L443.8,285.7L445.2,284.4L446,281.9L446.3,279.6L449,280.2L449.6,278.2L451,279.4L452.3,278.8L452.9,279.3L454.5,279.4L456.5,280.4L457.2,281.3L458.2,282.2L459.2,283.7L460,284.5L459.3,285.7L458.5,286.9L458.7,287.6L458.8,288.4L460.2,288.5L461.2,288.8L460.7,289.7L461.6,291.1L462.5,292.4L463.4,293.3L471,296.4L472.9,296.4L466.6,304.2L463.6,304.3L461.6,306.2L460.1,306.3Z"/><path d="M200.4,265.8L200.7,265.4L202.5,265.4L203.8,266.1L204.4,266L204.7,266.9L205.9,266.9L205.8,267.6L206.8,267.7L207.8,268.7L206.8,269.7L205.8,269.2L204.8,269.3L204,269.2L203.6,269.6L202.7,269.8L202.4,269.2L201.6,269.6L200.5,271.3L200,270.9L199.9,270.2L200.1,269.4L199.5,268.7L200.2,268.2L200.4,267.2Z"/><path d="M418.2,210.7L416.9,210.7L415.8,210.4L413.2,211.1L414.9,212.5L413.8,213L412.6,213L411.4,211.6L411.1,212.2L411.7,213.7L412.9,215L412.1,215.5L413.4,216.7L414.5,217.5L414.7,218.9L412.7,218.3L413.4,219.6L412,219.9L413.1,222.2L411.6,222.2L409.8,221.1L408.8,219L408.3,217.3L407.3,216.1L406.1,214.6L405.9,213.8L406.8,212.6L406.9,211.7L407.5,211.4L407.5,210.7L408.9,210.5L409.6,209.9L410.8,209.9L411.1,209.5L411.5,209.4L413,209.5L414.6,208.8L416.2,209.7L418,208.1L419.1,208.8L418.6,210.4Z"/><path d="M405.9,213.8L405.6,213.7L405.5,213.1L404.2,212.2L403.9,211L404,209.2L404.2,208.4L403.8,208L403.6,207.2L404.4,205.9L404.5,206.4L405.1,206.2L406.1,207.1L406.4,208L406.2,208.9L406.6,210L407.5,210.7L407.5,211.4L406.9,211.7L406.8,212.6Z"/><path d="M572.1,263.3L571.2,262L570.9,260.6L570.3,259.4L569.1,257.8L567.1,257.7L567.4,258.8L566.9,260.3L565.9,259.7L565.6,260.2L564.9,259.9L564,259.7L563.4,257.5L562.3,255.6L562.4,254L560.9,253.3L561.3,252.3L562.5,251.4L560.7,250L561.1,248.2L563.1,249.4L564.2,249.5L564.7,251.3L566.9,251.7L569,251.6L570.4,252.1L569.7,254.3L568.7,254.4L568.3,255.9L569.7,257.2L569.8,255.6L570.4,255.6L572.2,259.7L572.5,261.6L571.6,261.2Z"/><path d="M514.7,254.8L513.9,252.9L511.9,250.9L507.8,251.4L504.2,251.4L501,251.8L501.5,248.8L504.5,247.4L504.2,246.2L503.1,245.8L502.7,243.5L500.4,242.3L499.2,240.8L497.9,239.4L501.8,240.7L504,240.3L505.4,240.7L505.7,240.1L507.3,240.3L510,239.2L509.7,237L510.6,235.5L512.3,235.5L512.4,234.8L514,234.5L514.9,234.7L515.6,234L515.1,232.4L515.7,230.8L517,230.2L515.7,228.4L517.8,228.5L518.2,227.6L517.9,226.6L518.7,225.5L518.1,224.2L517.3,223.1L518.3,221.9L520.5,221.4L522.9,221.1L523.8,220.6L524.8,220.4L524.7,220.1L525,220.3L526.9,221.5L528.1,223.5L532,224.6L530.4,226.8L528.1,227.2L524.6,226.5L523.9,227.7L525.2,230L526.4,231.7L528.4,233L526.9,234.5L527.3,236.4L525.7,239L524.8,241.7L523,244.4L520.4,244.2L518.3,246.9L520,248.1L520.5,250.1L522,251.4L522.7,253.7L517.7,253.7L516.5,255.4Z"/><path d="M450.6,208.9L450.8,207.8L449.9,206L448.5,205.1L447.3,204.8L446.4,204L446.6,203.7L448.4,204.1L451.6,204.5L454.7,205.8L455.2,206.3L456.4,205.8L458.4,206.4L459.3,207.4L460.7,208L460.3,208.4L461.6,209.8L461.3,210.1L460.2,210L458.5,209.2L458,209.6L455.1,210L452.9,208.8Z"/><path d="M424.1,199.2L424.3,199.8L423.3,200.4L422.7,200.2L422.5,203.3L421.3,203L419.6,202.1L417.3,202.7L416.3,203.3L413.2,203.2L411.6,202.8L410.8,203L410.1,201.9L409.7,201.4L410.1,201L409.5,200.7L408.9,201.3L407.6,200.5L407.4,199.5L406,198.9L405.7,198.1L404.5,197.1L406.1,196.6L407.2,194.9L407.9,193.1L409.1,192.6L409.9,192L411.2,192.3L412.5,192.3L413.6,192.9L414.2,192.6L415.7,192.3L416.1,191.7L416.9,191.7L417.6,192L418.3,192.7L419.1,193.8L420.5,195.3L420.7,196.4L420.7,197.5L421.2,198.7L422.2,199.2L423.1,198.8Z"/><path d="M414.4,224L415.7,224.9L417.3,224.8L419,225L419,225.4L420.1,225.1L419.9,225.9L416.8,226.1L416.8,225.7L414.1,225.1Z"/><path d="M412.6,215.7L414.6,216.4L415.8,218.1L414.4,217.2L413.1,216.2Z"/><path d="M476.5,349.9L477.1,351L477.6,352.7L477.8,355.9L478.3,357.1L478,358.3L477.5,359.1L476.8,357.6L476.3,358.3L476.7,360.3L476.4,361.4L475.7,362L475.4,364.2L474.3,367.2L472.9,370.8L471.2,375.8L470,379.4L468.8,382.4L466.9,383.1L464.8,384.2L463.6,383.5L461.9,382.6L461.3,381.2L461.4,378.9L460.7,376.8L460.7,374.9L461.2,373L462.3,372.6L462.3,371.7L463.5,369.7L463.9,368.1L463.4,366.8L463.1,365.2L463.1,362.8L463.9,361.3L464.4,359.7L465.5,359.6L466.8,359L467.7,358.5L468.7,358.5L470.1,357L472,355.4L472.8,354.1L472.5,353L473.5,353.3L474.8,351.5L474.9,349.9L475.8,348.7Z"/></g>
<g class="c2"><path d="M358.3,225.4L360.4,224.1L362.3,223.5L365.8,222L369.5,221.1L373.8,221.1L377.9,220.5L381.2,220.8L380.8,222.2L381.2,224.6L380.7,226.8L379.4,228.2L379.7,230.2L381.5,231.8L381.5,232.4L382.9,233.5L384,238.1L384.8,240.5L384.9,241.7L384.6,243.8L384.8,245L384.5,246.4L384.7,248.1L383.9,249.2L385.2,251L385.3,252.2L386.2,253.6L387.2,253.1L389,254.3L390,256L382.4,261L375.9,266.1L372.7,267.3L370.2,267.5L370.1,265.9L369.1,265.4L367.7,264.7L367.1,263.5L359.5,257.8L352,252.1L343.6,246L343.7,245.1L343.7,242L347.3,240L349.6,239.6L351.4,238.9L352.3,237.6L354.9,236.6L355,234.7L356.2,234.4L357.2,233.5L360.1,233L360.5,232L360,231.5L359.2,228.7L359.1,227.1Z"/><path d="M415.2,287.3L414.6,286.8L414.6,285.3L414.1,284.3L413.3,284.4L413.5,283.4L414,282.4L413.7,281.3L414.5,280.5L414,279.9L414.6,278.3L415.5,276.3L417.5,276.5L417.4,266.4L417.4,265.1L419.7,265.1L419.5,260.7L419.5,259.8L446.3,259.8L446.9,262.4L447.4,266.1L448.2,268.5L450.3,270.3L449.3,271.8L447.6,272.2L446.9,273L446.8,274.7L446,278.6L446.3,279.6L446,281.9L445.2,284.4L443.8,285.7L442.9,287.7L442.7,288.8L441.6,289.5L441,292.3L440.7,291.2L440.4,290.3L439.2,289.3L438.9,287.4L439.1,285.5L438,285.3L437.9,285.9L436.5,286L437.1,286.8L437.3,288.4L436.1,289.8L435,291.7L433.8,291.9L431.9,290.4L431,291L430.8,291.7L429.6,292.2L429.6,292.7L427.3,292.7L426.9,292.2L425.3,292.1L424.5,292.6L423.8,292.4L422.6,290.8L422.2,290.1L420.6,290.5L419.9,291.7L419.4,294L418.6,294.5L417.9,294.8L417.7,294.7L416.9,293.9L416.8,293.1L417.1,292L417.1,290.9L415.7,289.3L415.4,288.2Z"/><path d="M453.3,329.5L452.4,332.7L452.8,334.3L453.7,335.6L453.4,338.2L454,341.1L454.9,343.7L455.6,344.3L453.7,345.8L451.2,346.8L449.8,346.7L448.9,347.5L447.3,347.6L446.7,347.9L444,347.2L442.3,347.4L441.7,343.8L441,342.6L440.5,341.9L438.3,341.4L437,340.6L435.6,340.2L434.6,339.7L433.7,339.1L432.5,335.8L431.2,334.3L430.8,332.8L431,331.5L430.6,329.1L431.6,328.9L432.4,328L433.3,326.6L433.9,326.1L433.9,325.2L433.4,324.6L433.3,323.6L434,323.3L434.1,321.7L433.2,320.3L434,319.9L436.5,320L441.2,319.8L441.6,320.1L449.9,325.4L450.1,326.9Z"/><path d="M418,345.8L416.8,345.7L415.4,346.1L414.4,346L413.8,346.2L414,343.1L413.3,342.2L413.1,340.6L413.5,339L413,338L413,336.3L410.2,336.4L410.4,335.4L409.2,335.4L409.1,335.9L407.7,336L407.1,337.5L406.7,338.2L405.5,337.8L404.7,338.2L403.2,338.4L402.3,337L401.8,336.2L401.1,334.6L400.6,332.7L393.8,332.6L393,332.9L392.3,332.9L391.4,333.2L391.1,332.4L391.7,332.1L391.7,331L392.1,330.3L392.9,329.8L393.6,330L394.3,329.1L395.6,329.1L395.7,329.8L396.6,330.3L398,328.6L399.3,327.4L399.9,326.5L399.8,324.4L400.9,321.8L401.9,320.5L403.4,319.2L403.7,318.4L403.7,317.5L404.1,316.5L404,315.1L404.3,312.8L404.7,311.1L405.4,309.7L405.5,308.2L405.7,306.3L406.6,305L407.9,304.2L409.8,305L411.2,306L412.9,306.3L414.7,306.8L415.3,305.2L415.6,305L416.7,305.3L419.2,304L420.2,304.5L420.9,304.4L421.2,303.8L422.1,303.6L423.8,303.8L425.3,303.9L426.1,303.6L427.5,305.8L428.5,306.1L429.1,305.7L430.2,305.8L431.5,305.3L432,306.4L434.1,308.1L434,311.2L434.9,311.6L434.2,312.5L433.3,313.2L432.4,314.5L431.9,315.7L431.8,317.8L431.3,318.8L431.2,320.8L430.6,321.5L430.5,323.1L430.2,323.3L429.9,324.7L430.5,325.9L430.6,329.1L431,331.5L430.8,332.8L431.2,334.3L432.5,335.8L433.7,339.1L432.8,338.8L429.7,339.3L429.1,339.6L428.4,341.2L428.9,342.4L428.4,345.5L428,348.1L428.7,348.6L430.2,349.6L430.9,349.1L431,351.9L429.2,351.9L428.3,350.5L427.5,349.3L425.8,349L425.3,347.6L423.9,348.4L422,348.1L421.3,346.9L419.8,346.7L418.8,346.7L418.7,345.9Z"/><path d="M392.5,311.3L391.5,311.6L390.1,311.2L389,311.4L385.3,311.3L385.6,309.2L384.7,307.6L383.6,306.9L383.2,305.9L382.6,304.8L383.2,303L384.3,300.5L384.9,300.5L386.3,298.9L387.2,298.9L388.5,300L390,299.1L390.2,298L390.7,296.9L391.1,295.6L392.3,294.5L392.8,292.7L393.3,292.1L393.6,290.8L394.1,289.1L396.1,287.1L396.2,286.2L396.4,285.7L395.5,284.8L395.5,283.9L396.2,283.7L397.1,285.4L397.3,287.1L397.2,288.9L398.5,291.2L397.2,291.2L396.6,291.4L395.5,291.1L395.1,292.4L396.4,293.9L397.4,294.3L397.8,295.4L398.7,297.7L398.2,297.9L397,300.6L396.5,301L396.3,303.1L396.5,304.2L396.4,304.9L397.5,306.3L397.7,307.2L398.5,308.6L399.6,309.4L399.7,310.6L399.9,311.4L399.8,312.8L397.9,312.2L396.1,311.5L393.2,311.4Z"/><path d="M369.2,300.9L367.3,301.3L366.7,299.5L366.8,293.5L366.4,292.9L366.3,291.6L365.5,290.7L364.8,290L365.1,288.6L365.8,288.3L366.3,287.1L367.4,286.9L367.9,286.1L368.7,285.4L369.5,285.3L371.3,286.8L371.7,289.3L371.3,290.3L371.5,291L370.4,292.6L369.7,293.4L369.3,295.1L369.3,296.7Z"/><path d="M344.6,290.6L343.9,289.9L344,289.1L343.7,288.8L343.2,289.1L343.3,288.2L343.8,287.5L342.8,286.5L342.6,285.7L342.1,285.1L341.6,285.1L341.1,285.5L340.3,285.8L339.7,286.4L338.7,286.2L338.1,285.5L337.7,285.4L337.1,285.7L336.6,284.8L336.7,284L336.6,283L335.7,282.2L335.3,280.8L335.2,279.1L336,278.6L336.4,277.1L337.1,277L338.7,277.8L340,277.3L340.9,277.4L341.2,276.8L350.4,276.8L350.9,275L350.5,274.6L349.5,263.4L348.5,252.1L352,252.1L359.5,257.8L367.1,263.5L367.7,264.7L369.1,265.4L370.1,265.9L370.2,267.5L372.7,267.3L372.7,273.3L371.5,275L371.3,276.6L369.3,277L366.2,277.3L365.3,278.2L363.8,278.3L362.4,278.3L361.8,277.8L360.6,278.2L358.4,279.3L358,280.1L356.2,281.3L355.9,281.9L354.9,282.5L353.8,282.1L353.2,282.7L352.9,284.5L351,286.7L351.1,287.6L350.4,288.7L350.6,290.2L349.6,290.6L349.1,290.9L348.7,289.8L348.1,290.1L347.7,290.1L347.3,290.8L345.5,290.8L345,290.5Z"/><path d="M350.6,290.2L350.4,288.7L351.1,287.6L351,286.7L352.9,284.5L353.2,282.7L353.8,282.1L354.9,282.5L355.9,281.9L356.2,281.3L358,280.1L358.4,279.3L360.6,278.2L361.8,277.8L362.4,278.3L363.8,278.3L363.7,279.6L364,280.8L365.3,282.5L365.3,283.7L368,284.3L367.9,286.1L367.4,286.9L366.3,287.1L365.8,288.3L365.1,288.6L363,288.5L362,288.3L361.3,288.7L360.2,288.5L356.3,288.7L356.2,290.1L356.5,292.1L354.9,291.4L353.9,291.5L353.1,292.2L352,291.6L351.6,290.8Z"/><path d="M185.2,294.7L186.3,294.7L188.2,292.9L189.1,292.6L189.2,291.8L189.7,289.6L191.1,288.4L192.6,288.3L192.8,287.8L194.6,288L196.5,286.7L197.4,286.1L198.6,284.8L199.4,285L199.9,285.7L199.5,286.5L198,287L197.3,288.3L196.4,289L195.6,290L195.2,291.9L194.5,293.4L195.7,293.6L195.9,294.8L196.4,295.3L196.6,296.4L196.2,297.4L196.3,297.9L196.9,298.1L197.4,299L200.4,298.8L201.7,299.1L203.2,301.4L204.1,301.1L205.8,301.2L207.1,300.9L207.9,301.4L207.5,302.8L206.9,303.7L206.7,305.5L207.1,307.3L207.7,308.1L207.8,308.6L206.6,309.9L207.4,310.5L208,311.4L208.7,314L208.3,314.3L207.8,312.8L207.2,312L206.4,312.9L201.9,312.8L202,314.5L203.3,314.7L203.2,315.7L202.8,315.4L201.4,315.9L201.4,317.8L202.5,318.7L202.8,320.2L202.8,321.4L201.9,328.5L200.7,327.1L200,327.1L201.4,324.4L199.7,323.2L198.3,323.4L197.4,323L196.2,323.6L194.5,323.3L193.1,320.6L192,319.9L191.2,318.7L189.7,317.5L189.1,317.7L188.1,317.1L187,316.2L186.3,316.6L184.4,316.3L183.8,315.1L183.4,315.2L181.1,313.7L180.8,312.9L181.6,312.7L181.6,311.4L182.1,310.4L183.3,310.2L184.3,308.6L185.2,307.2L184.3,306.6L184.8,305.1L184.4,302.7L184.9,302L184.6,299.8L183.8,298.4L184.1,297.2L184.9,297.3L185.3,296.6L184.9,295Z"/><path d="M220.9,374.8L218.5,374.7L217.8,376.9L216.3,375L213.3,374.3L212.3,376.6L211.7,376.7L210.1,377L208.8,373.4L207.3,370.5L207.7,368L206.4,366.9L205.9,365L204.6,363.2L205.8,360.4L204.6,358.2L205.1,357.3L204.6,356.4L205.4,355L205.3,352.8L205.3,351L205.7,350.1L203.4,345.9L205.2,346.1L206.3,346.1L206.8,345.3L208.8,344.2L209.9,343.2L212.9,342.8L212.8,344.8L213.1,345.8L213,347.5L215.6,349.8L218.2,350.3L219.2,351.3L220.8,351.8L221.8,352.5L223.2,352.5L224.6,353.3L224.8,354.8L225.3,355.6L225.4,356.7L224.7,356.7L225.8,359.8L230.2,359.9L230,361.4L230.3,362.4L231.6,363.1L232.3,364.8L232,366.8L231.5,368L231.8,369.5L231.2,370L231.1,369.2L228.9,367.9L226.8,367.8L222.9,368.6L222,370.9L222.1,372.3L221.5,375.4Z"/><path d="M221.5,375.4L222.1,372.3L222,370.9L222.9,368.6L226.8,367.8L228.9,367.9L231.1,369.2L231.2,370L232,371.4L232.2,375L234.6,375.5L235.5,375L237.1,375.7L237.6,376.5L238,378.9L238.4,379.9L239.2,380L240,379.6L240.9,380L241,381.5L240.8,383L240.6,384.5L240.5,386.8L238.7,388.8L237,389.3L234.4,388.9L232.1,388.1L233.8,384.2L233.3,383L230.9,382L228,380.1L226.1,379.7Z"/><path d="M224.4,200.4L221.8,201.7L219.3,202.6L216.9,203.3L215.2,204.9L214.7,205.4L214.2,206.8L214.5,208.2L215.4,208.3L215.5,208.6L213.9,209L212.9,209L211.2,209.4L209,209.7L207,210.5L210.3,210L210.7,210.5L207.5,211.2L206.2,211.2L205.5,211.6L206.1,211.7L205,213.6L202.9,215.6L202.5,214.8L202,214.2L202,215.6L202.4,216L202.1,217L201.2,218L199.4,220.1L199.2,220L200.4,218.2L199.6,217.2L200,215.1L199.2,216.2L199.2,217.9L197.9,217.4L199.1,218.3L198.5,220.7L199.1,220.9L199,221.8L198.7,224.4L196.8,226.4L194.3,227.2L192.5,228.7L191.4,228.9L190,229.8L189.5,230.7L186.6,232.4L185.1,233.6L183.7,235.2L182.9,237L182.9,238.8L183.2,241.1L183.8,242.9L183.6,244.1L184.1,247.1L183.7,248.8L183.5,249.9L182.6,251.5L181.9,251.8L180.9,251.5L180.7,250.3L179.9,249.7L179.1,247.5L178.5,245.5L178.3,244.4L179.1,242.7L178.8,241.3L177.5,239.1L176.8,238.7L174.3,239.9L173.9,239.7L173.1,238.5L171.9,237.9L169.3,238.2L167.4,237.9L165.7,238.1L164.7,238.5L164.9,239.2L164.6,240.3L164.9,240.8L164.4,241.1L163.7,240.7L162.8,241.2L161.2,241.2L159.8,239.8L157.8,240.1L156.4,239.5L154.9,239.7L152.9,240.3L150.4,242.2L148,243.4L146.5,244.6L145.7,245.8L145.3,247.6L145.1,248.8L145.4,249.7L144.5,249.8L143,249.2L141.4,248.4L141.1,247.2L141,245.4L140,243.9L139.6,242.3L138.9,240.6L137.7,239.5L135.8,239.6L133.9,241.6L132.3,240.8L131.3,240.1L131.2,238.6L130.8,237.3L129.8,236.1L129,235.3L128.4,234.4L124.6,234.4L124.3,235.4L122.5,235.4L118.2,235.5L113.7,233.6L110.8,232.4L111.2,231.8L108.4,232.1L105.8,232.3L105.9,231L105.1,229.5L104.1,229.2L104.2,228.4L103,228.3L102.5,227.6L100.6,227.3L100.2,226.9L100.5,225.5L99.5,222.9L99.3,219.2L99.7,218.6L99.2,217.8L98.5,215.6L99.3,213.5L98.9,212.1L100.5,209.9L101.6,207.7L102.1,205.7L104.3,203.3L107.6,198.6L109.3,195.2L110.1,193L110.2,191.8L110.8,191.3L113.2,192.2L112.8,194.6L113.7,193.9L114.7,191.8L115.3,189.7L171.1,189.7L171.6,188.8L172.3,188.7L172,190.1L172.4,190.6L173.7,190.7L175.6,191.1L177.2,191.9L179,191.6L181.2,192.3L181.9,192.2L184,191.5L185.5,192.4L187,193.4L188.3,194.3L189.5,195.1L189.4,195.7L189.8,196L189.6,196.3L190.1,196.3L190.6,196.1L190.5,196.7L190.7,197.1L191.3,197.1L191.4,197.4L191,197.8L192.7,199L192.2,201.4L191.7,203.6L190.5,205.2L189,206.6L188.2,207.5L188,207.7L188.1,208.1L188.7,208.5L189.2,208.5L192.2,207.1L194.5,206.7L197.7,205.5L197.8,205.2L197.9,204.4L197.8,203.9L198.9,203.5L202.8,203.5L203.9,202.5L204.2,202.3L207.1,200.4L208.2,199.9L215.1,199.9L215.6,199.3L216.3,199.2L217.3,198.8L218.4,197.6L219.7,195.6L222,193.7L222.4,194.3L223.9,193.9L224.6,194.7L223.4,198.2L224.3,199.6ZM110.8,174.3L109.8,173.5L111.1,171.3L110.5,169.4L111.6,167.1L109.9,166.9L107,166.9L105.5,166.2L104.1,163.7L102.8,163.2L100.5,162.4L97.7,162.6L95.3,161.5L94.2,160.5L91.6,161L90.2,162.6L89,162.8L86.3,163.3L83.8,164.1L81.2,164.6L82.5,163.2L85.9,160.8L88.7,160.1L88.8,159.5L85,160.8L82,162.4L77.4,164.1L77.5,165.3L73.9,167L70.7,168L68,168.8L66.4,169.9L62.1,171.1L60.3,172.3L57,173.3L55.8,173.1L53.3,173.8L50.5,174.7L48,175.5L43.9,176.2L44.1,175.8L47.4,174.6L50.1,173.8L53.6,172.5L56.3,172.2L58.3,171.2L62.5,169.8L63.5,169.3L65.8,168.4L68.1,166.6L70.7,165.2L67.7,165.9L67.6,165.5L65.6,166.4L65.7,165.1L64.2,166L64.9,164.8L61.9,165.8L60.8,165.8L62.3,164.3L63.7,163.4L63.5,162.6L60.6,163L60.4,161.9L59.8,161.3L61.4,160L61.3,159L63.7,157.6L66.8,156.3L69,155.1L70.6,155L71.4,155.3L74.2,154.2L75.3,154.4L77.6,153.7L78.5,152.6L78.1,152.2L80.5,151.3L79.4,151.3L76.9,151.8L75.7,152.3L75,151.8L72.2,152.1L70.3,151.5L70.8,150.6L70.4,149.3L74.2,148.3L79.5,147.2L81,147.2L79.2,148.4L83,148.3L83.4,146.9L82.5,146L82.8,144.9L82.5,143.9L81.2,143.2L83.8,142.1L86.9,142L90.5,141L92.4,139.9L95.6,138.9L97.6,138.6L102.2,137.7L103.4,137.8L107.7,136.7L109.5,137.1L109.3,138.1L110.6,137.7L113.2,137.8L112.4,138.3L114.4,138.7L116.3,138.5L118.9,139.2L121.8,139.4L122.7,139.6L125.4,139.3L127,139.9L128.4,140.3L104,161.8L105.7,161.9L106.8,162.6L107,163.6L107.1,165.2L110.2,163.9L112.9,163.1L112.6,164.3L112.9,165.3L113.6,166.4L113.1,168.1L112.6,170.9L114.5,172.4L113.1,174L111.1,175.2Z"/><path d="M160.2,270.8L158.1,270.8L156,270.8L155.8,272.2L154.8,272.2L155.5,273.1L156.3,273.7L156.5,274.3L156.8,274.4L156.7,275.3L153.7,275.3L152.4,277.5L152.7,278L152.3,278.6L152.2,279.3L149.9,276.5L148.8,275.7L147.1,275L145.8,275.2L143.8,276.2L142.6,276.4L141.1,275.7L139.5,275.2L137.5,274L135.8,273.7L133.4,272.5L131.7,271.2L131.2,270.5L129.9,270.3L127.7,269.5L127,268.3L124.8,266.8L123.9,265.2L123.6,263.9L124.4,263.7L124.3,262.9L124.9,262.2L125,261.3L124.5,260.2L124.5,259.1L123.9,257.8L122.4,255.2L120.5,253.2L119.7,251.6L118,250.5L117.8,249.9L118.5,248.2L117.5,247.6L116.5,246.4L116.4,244.5L115.2,244.3L114.3,242.9L113.6,241.7L113.8,240.8L113.1,238.9L113,236.9L113.3,235.9L112.1,234.8L111.3,235L110.3,234.2L109.6,235.3L109.5,236.6L109.1,238.5L109.6,239.6L110.7,241.4L110.9,242L111.2,242.2L111.2,243.1L111.6,243L111.6,244.7L112.1,245.4L112.4,246.3L113.4,247.7L113.6,250.1L114,251.2L114.4,252.4L114.2,253.8L115.3,253.9L116,255.1L116.6,256.3L116.4,256.7L115.3,257.7L114.9,257.7L114.6,256.1L113.4,254.6L112,253.4L111,252.7L111.5,250.8L111.5,249.4L110.6,248.6L109.4,247.4L109,247.7L108.6,247L107.4,246.4L106.4,244.9L106.7,244.7L107.5,244.8L108.6,243.8L109.1,242.7L107.9,240.8L106.8,240.1L106.4,238.5L106.2,236.7L105.9,234.7L105.8,232.3L108.4,232.1L111.2,231.8L110.8,232.4L113.7,233.6L118.2,235.5L122.5,235.4L124.3,235.4L124.6,234.4L128.4,234.4L129,235.3L129.8,236.1L130.8,237.3L131.2,238.6L131.3,240.1L132.3,240.8L133.9,241.6L135.8,239.6L137.7,239.5L138.9,240.6L139.6,242.3L140,243.9L141,245.4L141.1,247.2L141.4,248.4L143,249.2L144.5,249.8L145.4,249.7L144,252L143.3,253.9L142.6,257.4L142.2,258.7L142.3,260.1L142.8,261.4L143,263.4L144.2,265.3L144.5,266.8L145.2,268.1L147.5,268.8L148.3,269.9L150.4,269.2L152.2,268.9L153.9,268.5L155.4,268L157,266.9L157.8,265.4L158.3,263.2L158.8,262.4L160.4,261.8L162.9,261.2L164.9,261.2L166.3,261L166.7,261.6L166.5,262.8L165.1,264.4L164.3,266L164.6,266.4L164.2,267.6L163.3,269.6L162.9,268.9L162.4,269L161.9,269L160.9,270.6L160.3,270.4Z"/><path d="M115.3,189.7L115.2,188.9L112.8,187.3L112.2,186.1L109.3,185.1L109.9,182.9L111.3,181.4L109.7,180.3L110.9,178.3L110.1,176.5L111.1,175.2L113.1,174L114.5,172.4L112.6,170.9L113.1,168.1L113.6,166.4L112.9,165.3L112.6,164.3L112.9,163.1L110.2,163.9L107.1,165.2L107,163.6L106.8,162.6L105.7,161.9L104,161.8L128.4,140.3L130.9,140.8L132.2,141.8L133.8,142L136.3,141.1L139.2,140.4L141.3,140.7L144.9,139.7L148.3,139.2L148.4,140.1L150.2,139.6L151.8,138.6L152.7,138.8L153.2,140.8L157.1,139.3L155.5,140.9L157.9,140.6L159.3,139.9L161.1,140.1L162.7,141L165.8,141.8L167.7,142.2L169.5,142L170.6,143.1L167.2,144.3L169.8,144.7L174.6,144.5L176.4,144.1L177,145.4L179.9,144.3L179,143.3L180.8,142.6L183,142.5L184.5,142.3L185.4,142.8L186,144L188.1,143.8L190.2,144.8L193.1,144.5L195.6,144.5L196.5,143.1L198.4,142.7L200.4,143.5L198.6,145.6L201.2,143.8L202.5,143.9L205.1,141.7L204.4,140.3L203.2,139.4L205.5,137L208.9,135.5L210.7,135.8L211.5,136.8L211.6,139.2L209.2,140.3L212,140.7L210.2,143L213.8,141.2L214.7,142.7L212.9,144.3L213.5,145.8L216.4,144.2L219.1,142.3L221,139.9L223.2,140L225.5,140.4L226.9,141.5L226.2,142.5L224.2,143.7L224.5,144.9L223.5,146L219.1,147.6L216.4,147.9L215.1,147.3L213.8,148.4L210.8,150.3L209.6,151.3L206.4,152.9L203.8,153.1L201.7,154L200.5,155.6L198.2,155.8L194.7,157.8L190.8,160.4L188.8,162.3L186.8,165.1L189.3,165.5L188.6,167.7L188.3,169.6L191.3,169.1L194.1,170.2L195.5,171.1L196.2,172.3L198.2,172.9L199.6,174L202.7,174.1L204.7,174.3L203.2,176.5L202.5,179L202.6,181.8L204.4,184.2L206.3,183.4L208.6,180.8L209.5,176.8L208.8,175.5L212.5,174.4L215.5,172.6L217.4,171L218.1,169.3L218,167.3L216.7,165.4L220.3,162.9L220.7,160.7L222.3,157.1L223.8,156.5L226.6,157.2L228.3,157.4L230.1,156.8L231.4,157.6L232.8,158.9L232.9,159.8L236.1,160L235,162L234.1,165.1L235.6,165.4L236.2,166.9L239.6,165.5L242.6,162.9L244.4,161.7L244.8,163.9L245.9,167L246.7,169.9L245.3,171.4L247.3,172.8L248.4,174.2L251.2,174.8L252.2,175.6L252.2,177.7L253.6,178.1L254,179L253.2,181.8L251.5,182.8L249.8,183.6L246.2,184.5L243,186.6L239.5,187L235.4,186.5L232.4,186.4L230.2,186.6L227.9,188.4L224.9,189.6L220.8,192.9L217.6,195.3L219.5,194.9L224,191.5L228.9,189.4L232,189.2L233.4,190.4L230.9,192.1L230.6,194.9L230.7,196.8L233,198.1L236.5,197.7L239.4,194.8L239,196.7L240,197.6L237,199.3L231.9,200.8L229.6,201.8L226.7,203.7L225.1,203.5L225.8,201.3L230,199.2L226.7,199.3L224.3,199.6L223.4,198.2L224.6,194.7L223.9,193.9L222.4,194.3L222,193.7L219.7,195.6L218.4,197.6L217.3,198.8L216.3,199.2L215.6,199.3L215.1,199.9L208.2,199.9L207.1,200.4L204.2,202.3L203.9,202.5L202.8,203.5L198.9,203.5L197.8,203.9L197.9,204.4L197.8,205.2L197.7,205.5L194.5,206.7L192.2,207.1L189.2,208.5L188.7,208.5L188.1,208.1L188,207.7L188.2,207.5L189,206.6L190.5,205.2L191.7,203.6L192.2,201.4L192.7,199L191,197.8L191.4,197.4L191.3,197.1L190.7,197.1L190.5,196.7L190.6,196.1L190.1,196.3L189.6,196.3L189.8,196L189.4,195.7L189.5,195.1L188.3,194.3L187,193.4L185.5,192.4L184,191.5L181.9,192.2L181.2,192.3L179,191.6L177.2,191.9L175.6,191.1L173.7,190.7L172.4,190.6L172,190.1L172.3,188.7L171.6,188.8L171.1,189.7Z"/><path d="M245.2,158.5L243,158L240.7,156.6L235.8,155.7L234.3,154.5L233.3,152.7L231.4,151.6L231,152.2L225.7,152.6L224.7,151.8L226.9,150.1L230.2,150.1L234,149.8L233.9,149L235.2,147.8L238.7,145.6L238.9,144.6L238.7,143.9L236.8,142.8L233.9,142.1L235.4,141.5L234.5,140.1L233.1,140L232.3,139.2L231,139.9L227.8,140.2L222.1,139.7L219.1,139.1L216.7,138.7L216,138L218.5,137L216.2,137L217.6,134.8L220.5,132.9L222.9,132.1L227.4,131.5L225.1,132.9L225.2,134.2L228.2,132.5L232.9,131.6L233.9,133.8L232.5,135.2L236.2,134.6L238.4,133.7L241.1,134.8L242.6,135.8L242.1,136.7L245.5,136.3L246.3,137.6L249.7,138.5L250.6,139.4L250.9,141.4L247.2,142.4L250.4,143.9L252.8,144.4L254.1,146.4L256.7,146.6L255.4,148.2L251,150.8L249.3,149.8L247.8,147.7L245.4,147.9L244.4,149.2L245.5,150.6L247.4,151.6L247.8,152.3L247.7,154.6L246.3,156.2L244.3,155.6L240.9,153.7L242.3,155.7L243.4,157.2Z"/><path d="M270,116.5L268.4,116.9L271.4,116.9L267.2,117.9L264.4,118.4L260.6,119.8L257.3,120.1L256,120.5L251.4,120.7L253.2,120.9L251.9,121.2L252.2,122.2L250.1,122.8L247.3,123.4L245.8,124.1L243.2,124.7L243,125.1L245.6,125.1L245.2,125.5L240,126.7L236.6,126.2L231.8,126.5L229.8,126.2L227,126.1L227.8,125.2L231.1,124.7L231.9,123.4L232.9,123.2L236,124L235.3,122.8L233.3,122.5L235.4,121.7L238.5,121.3L239.6,120.6L238.4,119.9L238.9,119L242.7,119.1L243.6,119.2L246.5,118.6L243.6,118.4L238.5,118.5L236.7,117.9L236.3,117.3L235.3,116.8L235.7,116.3L238.2,116L239.9,115.9L242.9,115.7L245.6,115.1L247.2,115.2L248.2,115.6L250.3,114.8L252.4,114.5L255,114.4L259.2,114.3L259.8,114.5L264,114.2L266.8,114.3L269.7,114.4L273.2,114.5L275.9,114.7L278.1,115.1L277.6,115.5L273.6,116.2Z"/><path d="M239.5,129.1L238.1,129.8L234.6,130.2L228.4,130.2L224.4,130.3L220.3,129.7L219.5,129.1L222,127.3L225.2,127.4L225.7,127.9L229.8,128.1L232.6,127.7L235.9,127.5L238.3,127.6L239.3,128.4Z"/><path d="M168.8,136.3L174.1,133.8L179.9,132.6L181,133L179.1,133.9L183.4,133.3L184.4,134.4L187.4,133.3L188.1,134L187.2,136.1L189,135.2L190.2,133L191.9,132.7L193.1,133L194,133.9L192.9,136L191.9,137.5L193.6,138.5L195.6,139.6L194.6,140.5L191.7,140.7L192,141.6L190.7,142.4L188,142L185.6,141.4L183.6,141.6L179.7,142.3L175.1,142.6L171.9,142.8L172,141.8L170.4,141.2L168.6,141.4L168.4,139.7L169.7,139.5L172.7,139.1L174.9,139.2L177.4,138.8L174.8,138.3L171.1,138.5L168.8,138.4L168.8,137.6L173.6,136.8L171,136.8Z"/><path d="M159,135.6L160.8,134.7L163.8,133.2L166.9,131.8L167,130.5L172.8,130.2L174.4,130.6L178.3,130.7L179.1,131.3L179.8,132.2L177.1,132.7L171.5,134.2L167.7,135.7L166.6,136.6L161.1,137.7L161.4,136.7Z"/><path d="M197.9,126.7L197.6,127.4L199.4,127L200.9,127.1L200,128.1L197.9,129L192.2,129.4L187.3,130.3L184.8,130.3L185.4,129.6L189.8,128.7L182.4,129L180.7,128.6L185.5,126.7L187.7,126.1L191,126.8L192.3,128L194.7,128.1L195,126.2L197.3,125.5L198.6,125.7Z"/><path d="M204.6,131.5L206,131.9L209.1,131.6L208.9,132.2L206.5,133.2L208,134.1L205.9,136L202.4,136.9L201.1,136.7L200.7,135.9L198.3,134.2L199,133.6L202,133.8L201.7,132.5Z"/><path d="M213.8,133.7L210.6,135.3L208.8,135.2L209.6,133.3L210.6,132.3L212.3,131.4L214.4,130.9L217.6,130.9L220.2,131.4L216.1,133.3Z"/><path d="M214.8,149.3L214.4,150.3L215.5,150L216.1,150.6L217.5,151.4L219.1,152.1L218.5,153.2L219.9,153L220.7,153.8L218.7,154.5L216.3,154L215.9,152.9L213.4,154.1L210,155.3L210.3,154L207.8,154.2L210.1,153L211.6,151.2L213.6,149.1Z"/><path d="M237.5,120L238.6,120.6L235.9,121.2L231.6,122.6L228.8,122.7L226,122.5L225.4,121.7L226.2,121.1L228,120.6L225.3,120.6L224.6,120L224.7,119.1L226.7,118.4L228.4,117.9L230,117.7L229.8,117.4L233.2,117.3L233.9,118.2L235.8,118.5L237.8,118.9Z"/><path d="M214,126.5L212.9,127.6L210.5,129.1L207.7,129.3L206.4,128.9L207.8,127.8L205.1,127.9L206.8,126.4L208.4,126.4L211.5,125.8L213.5,125.9Z"/><path d="M189.7,123.8L187.3,125.3L185.2,126L183.6,126.1L179.6,127L176.8,127.3L175.3,126.8L180,125.4L184.9,124.1L187.2,124.1Z"/><path d="M209.9,120.7L212.4,121L215.4,121.6L215.4,122.6L214.9,123.3L212.8,123.1L211.2,122.5L208,122.4L210.2,121.9L209,121.4Z"/><path d="M219.7,123.9L222.4,123.5L223.3,123.9L222.6,124.2L218.7,124.9L218.5,124.5Z"/><path d="M196.4,140.9L198.4,140.3L200.4,139.4L201.6,139.8L202.3,140.3L202.8,141.6L201.1,142.3L199.4,141.7L197.9,141.8Z"/><path d="M218,157.6L219.2,156.9L219.9,157.5L218.6,158.8L217.8,158.5Z"/><path d="M252.7,183.9L251.2,185.5L249.1,187.7L250.7,186.8L251.9,187.4L250.9,188.2L252.5,189L253.6,188.3L255.4,189.1L254.2,191L255.7,190.5L255.6,191.9L255.8,193.5L254.4,195.7L253.4,195.8L252.2,195.3L253.2,193.2L252.7,192.9L249.8,195.1L248.6,195L250.3,193.8L248.6,193.2L246.3,193.4L242.4,193.3L242.3,192.5L243.9,191.6L243.2,191L245.4,189.4L248.7,185.4L250.4,184L252.4,183.1L253.3,183.2Z"/><path d="M231.9,195.9L233.8,196.4L235.9,196.2L234.5,197.4L232.2,197.1Z"/><path d="M233.7,187.5L236.8,188L238.5,189.5L235.1,188.7Z"/><path d="M113.2,191L111.9,191.3L109.4,190.2L109.4,189.3L108.2,188.4L108.3,187.7L106.5,187.2L106.8,185.8L107.4,185.3L109.1,185.8L110,186.2L111.7,186.4L111.8,187.3L112,188.5L113.3,189.6Z"/><path d="M104.6,176.8L105.3,177.1L107.3,176.9L104.4,179.7L104.5,181.7L103.7,181.7L103.4,180.6L103.6,179.4L103.3,178.7L103.8,177.6Z"/><path d="M73.5,169.6L70.6,170.5L70.4,169.8L71.3,168.6L73.8,167.9L75.3,167.5L76.3,167.6L76.4,168.3Z"/><path d="M58.1,153.6L58.6,154.1L60,153.9L60.7,154.5L62.1,154.8L61.6,155L59.6,155.5L58.9,155L58.8,154.6L57,154.7L56.9,154.5Z"/><path d="M57.4,161.7L58.6,161.9L57.6,162.8L56,163.2L55.4,162.7L55,162.1Z"/><path d="M110.6,166.9L110.1,169.1L106.3,171.8L106.5,170.1L106.7,168.6L107.2,167.1Z"/><path d="M109.6,171.5L109.6,173.2L108.3,175.2L107,174.2L107.5,172.5Z"/><path d="M9.9,267.5L9.5,267.9L9,267.5L9.2,266.8L9.1,265.8L9.3,265.6L9.8,265.1L9.7,264.6L9.9,264.4L10.1,264.4L10.9,264.8L11.2,265.1L11.5,265.4L11.9,266.3L11.8,266.5L10.8,267Z"/><path d="M9.7,263.4L8.9,263.6L8.6,263L8.4,262.8L8.4,262.6L8.7,262.4L9.4,262.7L9.9,263.1Z"/><path d="M6.6,261.6L6.4,261.8L5.5,261.6L5.3,261L6,260.6L6.1,260.7Z"/><path d="M3.2,259.9L2.8,260.1L2.2,259.7L2.4,259.5L2.8,259.2L3.3,259.3Z"/><path d="M7.4,261.9L8.5,262L8.3,262.3L7.1,262.2Z"/><path d="M338,147.5L337.4,149L339.2,150.5L336.7,152.3L331.4,153.9L329.8,154.3L327.5,154L322.7,153.2L324.6,152.2L321,151.1L324.2,150.6L324.2,150L320.6,149.4L322.1,147.9L324.8,147.6L327.2,149.2L330,147.9L332.1,148.6L335.1,147.3Z"/><path d="M399.7,205.5L398.4,204.6L396.4,203.8L394.5,201.9L394.9,201.7L393.9,200.6L393.8,199.7L392.4,199.4L391.9,200.5L391.2,199.6L391.2,198.7L391.7,198.4L391.9,198.7L392.7,198.7L393.1,198.3L393.8,198.7L394.6,198.8L394.5,198.1L395.2,197.8L395.4,196.8L396.9,196.1L397.6,196.4L399.2,197.5L401,198L401.7,197.6L402.3,198.6L403,199.3L402.3,200.3L401.3,199.7L399.9,199.8L398.1,199.4L397.1,199.4L396.7,199.9L396,199.4L395.6,200.4L396.7,201.6L397.2,202.4L398.3,203.4L399.1,203.9L400,205L401.9,206L401.7,206.4Z"/><path d="M378.5,203.3L376.7,204.8L372.5,204.1L369.5,204.9L369.3,206.5L366.8,206.8L364.5,205.6L363.7,206.2L359.9,205L359,204L360.1,202.5L360.6,197.4L358.4,194.7L357,193.4L353.9,192.4L353.7,190.6L356.3,190L359.7,190.7L359.1,187.8L361,188.9L365.7,186.9L366.3,184.8L368,184.3L368.3,185.2L369.2,185.2L370.2,186.2L371.6,187.4L372.6,187.2L374.4,188.4L374.9,188.6L375.4,188.6L376.4,189.2L379.3,189.7L378.4,191.4L378.2,193.2L377.6,193.7L376.7,193.5L376.8,194.1L375.4,195.5L375.4,196.7L376.3,196.3L377.1,197.4L377,198.1L377.7,199.1L377,199.9L377.6,201.9L378.7,202.2Z"/><path d="M368,184.3L369.6,183.8L371,184L372.8,183.5L374.2,184.6L375.3,185.2L375.1,186.9L374.6,187L374.4,188.4L372.6,187.2L371.6,187.4L370.2,186.2L369.2,185.2L368.3,185.2Z"/><path d="M403.2,172.2L403,170.3L403.7,168.8L405.4,168L407.2,169.8L408.7,169.7L408.7,167.9L410.2,167.5L411.1,167.7L412.9,168.6L414.5,168.7L415.5,169.2L415.9,170.4L416.8,171.8L414.9,172.8L413.8,173.2L411.7,172L410.7,171.9L410.3,171.3L408.5,171.6L405.3,171.4Z"/><path d="M602.5,289.9L600.6,289.5L599.5,288.2L598.1,285.5L597.3,282.3L598.5,280.1L601.4,279.6L603.6,280L605.6,281L606.4,279.2L608.5,280.2L609.3,281.9L609.3,285.1L605.7,287.1L606.8,288.7L604.4,288.9Z"/><path d="M564,259.7L563.8,260.6L562.3,260.6L559.6,261.1L560,263.1L559,264.7L555.9,266.4L553.8,269.5L552.3,271.1L550.2,272.8L550.3,274L549.3,274.7L547.3,275.6L546.2,275.8L545.8,277.8L546.5,281.1L546.8,283.3L546.1,285.8L546.4,290.2L545.2,290.4L544.3,292.4L545,293.2L542.9,294L542.2,295.8L541.4,296.5L539.1,294.1L537.8,290.4L536.8,287.8L535.9,286.5L534.5,284L533.7,280.8L533.1,279.1L530.7,275.5L529.3,270.5L528.3,267.1L527.9,264L527.2,261.5L524.1,263.1L522.5,262.8L519.1,259.6L520.1,258.7L519.4,257.6L516.5,255.4L517.7,253.7L522.7,253.7L522,251.4L520.5,250.1L520,248.1L518.3,246.9L520.4,244.2L523,244.4L524.8,241.7L525.7,239L527.3,236.4L526.9,234.5L528.4,233L526.4,231.7L525.2,230L523.9,227.7L524.6,226.5L528.1,227.2L530.4,226.8L532,224.6L535.1,227.7L535.4,229.8L536.7,231.1L536.9,232.5L535.2,232.1L536.5,235L539.1,236.6L542.6,238.5L541.4,239.6L541,242.1L543.4,243.1L545.7,244.3L548.9,245.8L552.1,246.2L553.6,247.5L555.4,247.7L558.2,248.3L560,248.3L560.1,247.3L559.5,245.6L559.4,244.5L560.6,243.9L561.3,246L561.4,246.5L563.6,247.5L565,247.1L566.9,247.3L568.7,247.2L568.5,245.6L567.4,244.8L569.2,244.4L570.7,242.5L572.9,240.8L574.9,241.5L576.3,240.4L577.7,242L577.2,243.1L579.7,243.5L580.1,244.5L579.4,244.9L580,246.6L578.3,246.1L575.7,247.9L576.1,249.4L575.3,251.6L575.4,252.8L574.8,255L572.9,254.4L573.3,257.1L572.9,258L573.3,259.1L572.2,259.7L570.4,255.6L569.8,255.6L569.7,257.2L568.3,255.9L568.7,254.4L569.7,254.3L570.4,252.1L569,251.6L566.9,251.7L564.7,251.3L564.2,249.5L563.1,249.4L561.1,248.2L560.7,250L562.5,251.4L561.3,252.3L560.9,253.3L562.4,254L562.3,255.6L563.4,257.5Z"/><path d="M501,251.8L496.7,251L494.2,250.4L491.6,250.1L490.3,246.9L489.2,246.4L487.5,246.9L485.4,248.1L482.6,247.3L480.1,245.3L477.8,244.5L476,242L474,238.5L472.8,239L471.3,238.1L470.6,239.1L469.2,237.8L469,236.4L468.3,236.4L468.4,234.5L467,232.5L464.1,231L462.2,228.6L462.4,226.5L463.3,225.6L462.9,224.1L461.4,223.3L459.5,220.2L458,218.1L458.2,217.3L457.1,214.3L458.4,213.6L458.9,214.6L460.2,215.8L461.7,216.1L462.5,216.1L464.7,214.1L465.4,214L466.2,214.7L465.7,216L467.3,217.4L467.8,217.2L468.8,219.2L471,219.7L472.7,221L475.9,221.4L479.1,220.7L479.2,220.1L481,219.7L482.2,218.2L483.6,218.2L484.5,217.7L486.1,218L488.7,219.3L490.5,219.6L493.5,221.9L495.1,222L495.8,224.2L495.6,227.4L495.4,229.3L496.4,229.7L495.7,231.2L496.8,233.2L497.3,234.9L499,235.3L499.5,237L497.9,239.4L499.2,240.8L500.4,242.3L502.7,243.5L503.1,245.8L504.2,246.2L504.5,247.4L501.5,248.8Z"/><path d="M458.4,213.6L457.4,212.8L455.7,212.2L455.7,210.9L455.1,210L458,209.6L458.6,210.3L459.5,210.8L459.2,211.4L460.5,212.3L460,213.1L461.1,213.8L462.1,214.3L462.5,216.1L461.7,216.1L460.2,215.8L458.9,214.6Z"/><path d="M539.6,189L541.5,188.5L544.2,186.4L546.6,185.2L548.8,185.9L550.9,186L552.9,187.2L554.9,187.3L558.1,187.9L559.1,186.1L557.5,184.7L558,182.1L560.9,183.1L562.8,183.4L565.5,184L567,185.9L570.5,187L572.1,186.5L574.4,186.2L576.6,186.5L579.3,187.7L581.3,189L583.1,189L585.9,189.4L587.4,188.8L589.8,188.4L591.6,186.6L593,186.8L594.6,187.7L596.8,187.5L597,189.4L597.2,191.9L598.3,193L599.3,192.7L601.5,193L602.5,192.1L604.6,192.9L607.6,194.7L607.9,195.6L606.1,195.3L603.3,195.7L602.3,196.4L601.8,198.1L599.2,199.1L597.9,200.4L595.5,199.9L594.2,199.7L594,201.3L595.2,202.3L596,203.2L595,204L594.2,205.4L592.2,206.3L589.1,206.4L586.2,207.3L584.3,208.7L583,207.9L580.5,207.9L576.7,206.4L574.4,206L571.8,206.3L567.2,205.7L564.9,205.8L563,204.3L561,201.9L559.6,201.6L556.3,200L553.4,199.6L550.7,199.2L549.5,198.1L548.9,195.1L546.6,193.1L543.2,192.1L540.9,190.8Z"/><path d="M403.8,202.4L402.7,201.4L403,200.7L402.3,200.3L403,199.3L402.3,198.6L401.7,197.6L403.2,196.9L404.5,197.1L405.7,198.1L406,198.9L407.4,199.5L407.6,200.5L408.9,201.3L409.5,200.7L410.1,201L409.7,201.4L410.1,201.9L409.6,202.5L409.9,203.4L411,204.6L410.3,205.4L410.1,206.2L410.3,206.5L410,206.9L408.3,207L408.2,206.9L408.5,206.5L408.7,205.9L408.3,205.9L407.9,205.5L407.5,205.3L407.2,204.9L406.8,204.8L406.5,204.4L406.1,204.5L405.9,205.4L405.4,205.6L404.7,204.8L404,204.6L403.7,204.2L403.1,203.8L403.6,203.5Z"/><path d="M397.2,191.1L397.3,190.8L397.5,190.2L398.4,190.2L399.1,190L399.1,189.7L399.5,189.6L399.6,189.1L400,188.9L400.3,188.5L400.9,188.5L401.4,188.5L401.8,188.3L402.9,189.2L404.1,188.6L405,188.9L406.4,188.5L408.5,189.5L408,190.2L407.7,191.2L407.3,191.5L405,190.7L404.4,190.9L404,191.4L403.1,191.8L402.8,191.6L401.9,192L401.1,192.1L401,192.6L399.3,192.9L398.5,192.6L397.4,192Z"/><path d="M409.6,183.2L409.4,182.1L408.6,181L409.7,180.5L409.6,179.5L408.9,178.5L408.6,177.4L410.5,177.4L412.5,176.5L412.7,175.1L414.2,174.3L413.8,173.2L414.9,172.8L416.8,171.8L418.9,172.4L419.3,173.1L420.2,172.8L422.2,173.4L422.6,174.5L422.4,175.2L423.9,176.8L424.8,177.3L424.7,177.7L426.2,178.1L426.8,178.8L426.2,179.4L424.6,179.3L424.3,179.5L424.9,180.3L425.7,181.9L424,182.1L423.5,182.6L423.6,183.9L422.8,183.6L421,183.8L420.4,183.2L419.7,183.6L418.9,183.3L417.3,183.2L415,182.6L413,182.4L411.5,182.5L410.5,183.1Z"/><path d="M357.4,165.8L355.3,168.5L357.2,168.1L359.3,168.2L358.8,170.1L357,172.3L359,172.5L360.9,175.7L362.2,176L363.4,178.9L363.9,179.9L366.3,180.3L366.1,181.9L365.1,182.7L365.9,184L364.1,185.3L361.4,185.3L358,185.9L357.1,185.4L355.8,186.6L353.9,186.3L352.5,187.3L351.4,186.8L354.4,184.2L356.2,183.6L353.1,183.2L352.6,182.2L354.7,181.4L353.6,180.1L354.1,178.4L357,178.7L357.3,177.2L356,175.7L353.7,175.2L353.2,174.6L353.9,173.5L353.3,172.8L352.3,173.9L352.3,171.6L351.3,170.3L352.1,167.8L353.6,165.9L355.1,166Z"/><path d="M350.1,174.3L352.1,175.8L350.9,177.5L349.5,177L348.3,177L348.8,175.7L348.4,174.4Z"/><path d="M381.3,206.1L382.6,205.1L383.1,207.3L382.5,209.3L381.5,208.8L380.9,207Z"/><path d="M666.9,220.3L667.1,222.4L668.1,223.7L667.9,225.5L665.7,226.7L661.9,226.9L660.2,229.9L658.3,228.9L657.3,226.9L653.8,227.5L651.7,228.8L649.2,228.8L652.2,230.7L652.5,235.2L651.5,236.2L650.1,235.2L649.7,232.9L648,232.1L646.4,230.3L648.1,229.5L648.6,227.9L650.1,226.5L651,224.8L654.9,224L657.5,224.5L657.5,219.9L659.5,221.1L661.4,218.5L662,217.5L661.6,214.3L659.6,211.4L659.5,209.8L661.5,209.3L664.8,212.9L665.9,215L665.4,217.6Z"/><path d="M655,227.5L656.9,228.1L657.5,229L657,230.6L655.7,229.7L654.9,230.3L654.9,231.9L653.2,231.1L652.7,229.9L653.2,228.3L654.6,228.6Z"/><path d="M662.1,202.1L663.9,202.6L664.6,201.5L667.1,204.4L664.5,205.1L664.3,207.7L659.9,205.9L660.5,208.8L658.2,208.8L656.3,206.2L656,204.2L658.2,204.1L656.4,200.5L655.6,198.5L659.9,201.2Z"/><path d="M551.2,297.7L551,300.4L550,301.1L548,301.7L546.9,299.6L546.3,295.9L547.1,291.6L548.8,293.1L549.9,294.9Z"/><path d="M739,421.9L737.2,423.3L734.8,425.1L732.4,426.1L732.5,425.4L731.9,425.1L734.7,422.9L735.1,421.5L733.5,420.5L734.2,419.5L736.4,418.6L738.1,416.6L739.1,414.9L739.4,413.2L739.7,412.7L739.4,411.6L739,409.3L739.2,407.5L740.2,407.3L740.5,408.7L741.8,409.4L741,411.7L740.8,414.5L742,412.7L742.5,413.4L741.5,415.4L742.7,416.2L744,416.4L745.9,415.4L746.8,415.8L744.7,418L743,419.6L741.4,419.5L740.3,420.3L739.7,421.4Z"/><path d="M716.9,430.9L719.7,429.6L722.1,428.2L724.5,426.3L725.8,425.7L727.2,424.2L729.5,423L729.2,424.1L728.9,425.2L731.1,424.1L730.9,425.2L730.1,426.3L728.4,427.5L725.5,429.4L723.6,430.5L723.4,431.7L721.7,431.7L719.2,432.7L717.2,434.4L713.9,437L711.3,438.1L709.6,438.9L707.8,438.8L707.2,438L705.1,437.8L705.5,436.8L708.2,434.9L712.9,432.4L714.6,431.9Z"/><path d="M705.8,439.3L706.8,439.5L705.7,440.3L704.7,440.3Z"/></g>
<g class="c3"><path d="M436.4,387.1L435.4,391.2L434.6,392.5L432.9,393.8L431.7,395.4L430.7,396.7L429.2,398.5L426.5,401.4L424.9,403L423.2,404L420.7,405.1L419.4,405.8L418.9,406.2L418.1,405.6L416.9,406.1L414.5,406.1L412.4,405.8L409.9,406.9L408.1,407.2L406.5,408.2L405.7,408.2L404.8,407.4L404.1,407.2L403.2,406.6L403.2,406.1L402.9,404.3L403.1,401.9L403.1,400.1L401.9,397.5L400.9,395.4L399.3,392L400.5,390.6L401.3,391.4L401.7,392.5L402.7,392.7L404,393.2L405.2,393L407.3,391.6L407.7,382.9L407.7,382L408.3,382.4L409.5,384.9L409.2,386.5L409.7,387.4L411.3,387.1L412.5,385.9L413.6,385.2L414.2,383.9L415.3,383.3L416.2,383.6L417.3,384.4L419.1,384.5L420.5,383.9L420.8,383L421.3,381.8L422.5,381.6L423.2,380.6L424.1,378.9L426.2,376.9L429.4,375L430.4,375L431.4,375.5L432.2,375.2L433.4,375.4L434.3,379.1L434.8,381L434.2,383.9L434.3,384.8L433.2,384.3L432.6,384.5L432.3,385.3L431.6,386.3L431.6,387.1L432.8,388.6L434.2,388.3L434.7,387.1ZM427.4,392.9L426.5,392.1L425.4,392.7L424.1,393.7L422.8,395.3L424.3,397.4L425.2,397.1L425.6,396.3L426.9,395.8L427.3,395L428.1,393.7Z"/><path d="M365.4,301.8L361.8,303.5L360.6,304.2L358.5,305L356.4,304.3L356.5,303.2L355.5,301L356.1,298L357.1,295.8L356.5,292.1L356.2,290.1L356.3,288.7L360.2,288.5L361.3,288.7L362,288.3L363,288.5L362.9,289.3L363.8,290.7L363.9,292.6L364.1,294.6L364.6,295.6L364.1,297.9L364.3,299.3L364.9,300.9Z"/><path d="M356.4,304.3L355.4,304.2L353.8,303.7L352.3,303.8L349.6,304.2L345.7,306L345.2,305.9L345.4,303.7L345.6,303.4L345.6,302.4L344.6,301.3L343.9,301.1L343.2,300.4L343.7,299.3L343.5,298L343.6,297.2L344,297.2L344.1,296.1L343.9,295.6L344.1,295.2L345,294.9L344.4,292.8L343.9,291.7L344.1,291L344.6,290.6L345,290.5L345.5,290.8L347.3,290.8L347.7,290.1L348.1,290.1L348.7,289.8L349.1,290.9L349.6,290.6L350.6,290.2L351.6,290.8L352,291.6L353.1,292.2L353.9,291.5L354.9,291.4L356.5,292.1L357.1,295.8L356.1,298L355.5,301L356.5,303.2Z"/><path d="M363.8,278.3L365.3,278.2L366.2,277.3L369.3,277L371.3,276.6L371.5,275L372.7,273.3L372.7,267.3L375.9,266.1L382.4,261L390,256L393.6,257.1L394.9,258.6L396.5,257.6L397.1,261.6L398,262.3L398.1,263.2L399,264L398.6,265.2L397.8,270.5L397.8,273.9L394.9,276.3L394,279.8L394.1,281.5L392.9,281.8L391.2,283.2L389.4,282.5L388.2,282.3L387.5,282.7L386.1,282.6L384.8,283.7L383.6,283.8L380.9,282.5L379.8,283.1L378.6,283L377.8,282.1L375.4,281.1L373,281.4L372.4,282L372.1,283.4L371.4,284.5L371.3,286.8L369.5,285.3L368.7,285.4L367.9,286.1L368,284.3L365.3,283.7L365.3,282.5L364,280.8L363.7,279.6Z"/><path d="M434.3,384.8L434.7,387.1L434.2,388.3L432.8,388.6L431.6,387.1L431.6,386.3L432.3,385.3L432.6,384.5L433.2,384.3Z"/><path d="M243.9,306.4L244.7,306.3L245.3,307.8L246.5,312.3L247.7,312.8L247.8,314.6L246,316.7L246.7,317.5L250.8,317.9L250.9,320.5L252.7,318.8L255.6,319.8L259.4,321.3L260.5,322.9L260.2,324.3L262.8,323.5L267.4,324.9L270.8,324.8L274.2,327L277.2,329.9L279,330.6L281,330.8L281.8,331.6L282.7,334.9L283.1,336.5L282.3,340.8L281.1,342.5L278,346.1L276.6,349.1L275,351.4L274.5,351.4L273.9,353.3L274.3,358.2L273.8,362.3L273.7,364L273,365L272.8,368.5L270.8,371.9L270.5,374.6L268.8,375.7L268.4,377.3L265.9,377.3L262.4,378.3L260.9,379.5L258.5,380.2L256,382.3L254.3,384.9L254.2,386.8L254.8,388.3L254.6,390.9L254.3,392.2L252.9,393.6L251.1,398.2L249.4,400.3L248.1,401.5L247.5,404L246.3,405.5L245.5,404L246.2,402.8L244.7,401L242.7,399.6L240.2,397.9L239.4,398L236.8,395.9L235.4,396.2L237.9,392.7L240.1,390.1L241.4,389.1L243.1,387.6L242.9,385.5L241.6,384L240.6,384.5L240.8,383L241,381.5L240.9,380L240,379.6L239.2,380L238.4,379.9L238,378.9L237.6,376.5L237.1,375.7L235.5,375L234.6,375.5L232.2,375L232,371.4L231.2,370L231.8,369.5L231.5,368L232,366.8L232.3,364.8L231.6,363.1L230.3,362.4L230,361.4L230.2,359.9L225.8,359.8L224.7,356.7L225.4,356.7L225.3,355.6L224.8,354.8L224.6,353.3L223.2,352.5L221.8,352.5L220.8,351.8L219.2,351.3L218.2,350.3L215.6,349.8L213,347.5L213.1,345.8L212.8,344.8L212.9,342.8L209.9,343.2L208.8,344.2L206.8,345.3L206.3,346.1L205.2,346.1L203.4,345.9L202.2,346.3L201.1,346.1L201.1,342.1L199.3,343.6L197.2,343.6L196.3,342.2L194.7,342L195.2,340.9L193.8,339.3L192.8,336.9L193.4,336.5L193.3,335.4L194.7,334.6L194.4,333.2L195,332.3L195.1,331.1L197.6,329.3L199.8,328.4L201.9,328.5L202.8,321.4L202.8,320.2L202.5,318.7L201.4,317.8L201.4,315.9L202.8,315.4L203.2,315.7L203.3,314.7L202,314.5L201.9,312.8L206.4,312.9L207.2,312L207.8,312.8L208.3,314.3L208.7,314L210,315.4L211.8,315.2L212.2,314.4L213.9,313.8L214.9,313.4L215.2,312.3L216.8,311.6L216.7,311L214.8,310.8L214.5,309.1L214.6,307.4L213.6,306.7L214,306.5L215.7,306.8L217.5,307.5L218.2,306.8L219.9,306.4L222.5,305.4L223.4,304.4L223.1,303.7L224.3,303.6L224.8,304.2L224.5,305.4L225.2,305.8L225.7,307L225.1,307.9L224.7,310.1L225.2,311.4L225.4,312.6L226.8,313.9L227.9,314L228.2,313.5L228.9,313.4L230,312.9L230.7,312.2L232,312.4L232.6,312.3L233.8,312.5L234,312L233.7,311.5L233.9,310.7L234.8,311L235.9,310.7L237.2,311.3L238.2,311.8L239,311.1L239.5,311.2L239.8,311.9L240.9,311.8L241.8,310.8L242.5,308.8Z"/><path d="M235.5,407.2L238.7,409.5L238.7,411.3L240.3,412.4L240.5,413.7L239.1,417L236.3,418.4L232.1,419L229.7,418.7L230.5,420.2L230.6,422.2L231.3,423.5L230.3,424.4L228.2,424.8L225.9,423.8L225.3,424.5L226.3,427.1L228,427.8L228.9,427L229.9,428.4L228.2,429.2L227,430.8L227.5,433.4L227.4,434.8L225.5,434.8L224.3,436.1L224.4,438L227,439.8L229.1,440.4L229.2,442.7L227.3,444.1L227.1,447.1L225.6,448.1L225.3,449.2L227,451.8L228.9,453.3L228,453.2L226,452.8L221.1,452.4L219.6,451L218.9,449.1L217.6,449.3L216.6,448.4L215.3,445.7L216.4,444.6L216.4,442.9L215.7,441.7L216,439.5L215.5,436.1L214.8,434.6L215.5,434.1L215,433.1L213.8,432.6L214.2,431.5L212.9,430.6L211.4,427.6L212.1,427L210.7,423.9L210.4,421.2L210.3,418.9L211.4,418L210,415.4L209.4,413L210.6,411.4L210,409.2L210.6,406.6L210.1,404.2L209.4,403.7L207.5,399.2L208.3,396.5L207.6,394L208,391.6L209.1,389.2L210.4,387.6L209.6,386.5L209.9,385.7L209.2,381.3L211.5,380.1L211.7,376.7L212.3,376.6L213.3,374.3L216.3,375L217.8,376.9L218.5,374.7L220.9,374.8L221.5,375.4L226.1,379.7L228,380.1L230.9,382L233.3,383L233.8,384.2L232.1,388.1L234.4,388.9L237,389.3L238.7,388.8L240.5,386.8L240.6,384.5L241.6,384L242.9,385.5L243.1,387.6L241.4,389.1L240.1,390.1L237.9,392.7L235.4,396.2L235.2,398.3L235.1,401L235.6,403.6L235.2,404.2L235.4,405.9Z"/><path d="M228,453.2L226.2,453.1L225.5,453.8L224.1,454.7L224.9,457L224.1,457.1L221.5,456.2L218.5,454.5L215.4,453.1L214.1,451.5L214,450L212.3,448.4L210.2,444L210.1,441.6L211.5,439.6L208.2,438.9L209.3,436.6L208.4,432.3L211,433.2L210.3,427.9L208.7,427.2L209.1,430.5L207.7,430.1L207.1,426.4L206.3,421.6L206.7,419.8L205.4,417.3L204.4,414.4L205.3,414.2L205.5,410.1L206,405.9L206,402L204.7,398.1L205,395.9L204.1,392.7L204.9,389.5L204.5,384.5L204.5,379L204.5,373.2L203.9,368.9L203.1,365.2L204.2,364.6L204.6,363.2L205.9,365L206.4,366.9L207.7,368L207.3,370.5L208.8,373.4L210.1,377L211.7,376.7L211.5,380.1L209.2,381.3L209.9,385.7L209.6,386.5L210.4,387.6L209.1,389.2L208,391.6L207.6,394L208.3,396.5L207.5,399.2L209.4,403.7L210.1,404.2L210.6,406.6L210,409.2L210.6,411.4L209.4,413L210,415.4L211.4,418L210.3,418.9L210.4,421.2L210.7,423.9L212.1,427L211.4,427.6L212.9,430.6L214.2,431.5L213.8,432.6L215,433.1L215.5,434.1L214.8,434.6L215.5,436.1L216,439.5L215.7,441.7L216.4,442.9L216.4,444.6L215.3,445.7L216.6,448.4L217.6,449.3L218.9,449.1L219.6,451L221.1,452.4L226,452.8Z"/><path d="M177.8,326.2L179,324.2L178.5,323.1L177.6,324.3L176.2,323.2L176.7,322.4L176.3,320.1L177.1,319.7L177.5,318L178.4,316.4L178.2,315.3L179.5,314.7L181.1,313.7L183.4,315.2L183.8,315.1L184.4,316.3L186.3,316.6L187,316.2L188.1,317.1L189.1,317.7L189.4,319.7L188.7,321.4L186.2,324.1L183.5,325.1L182.1,327.4L181.8,329.2L180.5,330.3L179.5,328.9L178.5,328.7L177.6,328.9L177.5,327.9L178.1,327.3Z"/><path d="M228.2,454L229.5,455.2L231.2,457L234.4,458.5L237.4,459.1L237,460.4L235.2,460.5L233.9,459.6L232.7,459.6L230.6,459.6Z"/><path d="M228.2,454L230.6,459.6L232.7,459.6L233.7,460.6L232.4,461.4L230.2,461.1L228.4,460.4L226.3,460L223.2,458.7L220.6,457.3L216.6,454.5L218.5,455L222,456.7L224.9,457.6L225.4,456.5L225.3,454.7L226.7,453.7Z"/><path d="M162.4,269L162.7,269.4L162.6,270.1L162.1,271.2L162.3,271.6L161.9,272.6L162,272.8L161.6,274.1L161.1,274.8L160.7,274.9L160.1,275.8L159.4,275.8L160.2,270.8L160.3,270.4L160.9,270.6L161.9,269Z"/><path d="M438.4,235.5L439.2,234.9L439.4,233.5L439.7,231.5L440,230.9L440.7,230.9L440.9,230.4L441.4,230.4L441.6,231.3L441.4,231.9L441.1,232.7L441.3,234.3L441,235L441.2,236.1L440.5,240.2Z"/><path d="M441.4,223.7L440.4,222.6L441.1,221.6L439.8,221.8L437.9,221.2L436.6,222.7L433.4,223L431.5,221.6L429.1,221.5L428.8,222.6L427.3,222.9L425,221.5L422.7,221.6L421.2,219L419.5,217.5L420.3,215.5L418.8,214.3L418.8,212.9L418.2,211.3L418.2,210.7L418.6,210.4L419.1,208.8L418,208.1L420.1,207.3L421.9,207.7L422.3,208.7L424.2,209.5L424.8,209.7L428.9,210L431.2,208.4L433.5,207.6L437,207.6L440.9,209.4L444.2,210.4L446.5,210L448.4,210.2L450.6,208.9L452.9,208.8L455.1,210L455.7,210.9L455.7,212.2L457.4,212.8L458.4,213.6L457.1,214.3L458.2,217.3L458,218.1L459.5,220.2L458.5,220.7L457.7,220L455.1,219.7L454.2,220.1L451.8,220.5L450.7,220.4L448.3,221.4L446.6,221.4L445.4,220.9L443.1,221.7L442.3,221.1L442.4,222.6L441.9,223.2Z"/><path d="M391.7,198.4L390,198.1L388.4,199L388.6,200.2L388.4,201L389.2,202.3L391.2,203.6L392.4,205.7L394.9,207.8L396.5,207.8L397.1,208.4L396.5,208.9L398.5,209.8L400.1,210.6L402,211.9L402.3,212.4L401.9,213.4L400.7,212.1L398.8,211.7L398,213.4L399.6,214.4L399.5,215.7L398.6,215.9L397.6,218.1L396.7,218.3L396.7,217.5L397,216.1L397.4,215.6L396.5,214.1L395.8,212.7L394.9,212.4L394.2,211.3L392.8,210.8L391.8,209.8L390.2,209.6L388.5,208.5L386.5,206.8L385,205.3L384.2,202.7L383.2,202.4L381.5,201.6L380.5,201.9L379.4,203.1L378.5,203.3L378.7,202.2L377.6,201.9L377,199.9L377.7,199.1L377,198.1L377.1,197.4L378,197.9L379,197.8L380.1,197L380.4,197.4L381.4,197.3L381.8,196.3L383.3,196.6L384.2,196.2L384.3,195.1L385.6,195.5L385.8,195L387.8,194.5L388.3,195.4L391.3,196.1L391.2,197.3Z"/><path d="M369.3,206.5L369.4,208L367.4,209.7L364.7,210.2L364.5,211.1L363.2,212.5L362.4,214.7L363.2,216.1L362,217.3L361.5,219L359.9,219.5L358.4,221.5L353.6,221.5L352.2,222.4L351.3,223.4L350.3,223.2L349.5,222.3L348.9,220.8L346.9,220.4L346.8,219.5L347.6,218.6L347.9,217.9L347.2,217.1L347.8,215.4L347,213.8L347.9,213.6L348.1,212.4L348.4,212L348.5,210L349.5,209.3L349,208L347.7,207.9L347.4,208.2L346.1,208.2L345.6,207L344.8,207.3L344,208L344.2,206.2L343.4,205L346.4,203.2L348.9,203.6L351.7,203.6L353.9,204.1L355.7,203.9L359,204L359.9,205L363.7,206.2L364.5,205.6L366.8,206.8Z"/><path d="M346.9,220.4L346,221.1L344.9,220.7L343.8,221L344.2,219L344,217.4L343.1,217.1L342.6,216.1L342.8,214.4L343.7,213.5L343.9,212.4L344.4,210.9L344.4,209.8L344,208.9L344,208L344.8,207.3L345.6,207L346.1,208.2L347.4,208.2L347.7,207.9L349,208L349.5,209.3L348.5,210L348.4,212L348.1,212.4L347.9,213.6L347,213.8L347.8,215.4L347.2,217.1L347.9,217.9L347.6,218.6L346.8,219.5Z"/><path d="M376.5,178.5L376.8,178L378.5,177.8L378.8,178.4L380.1,177.1L379.6,176.2L379.4,174.8L380.9,175.1L382.1,174.8L382.2,175.7L384.2,176.3L384.3,177.2L386.2,176.7L387.2,176L389.5,177L390.5,177.8L391,179.1L390.6,179.7L391.4,180.6L392,182L391.9,182.8L392.8,184.4L392,184.7L391.4,184.4L391,184.9L389.6,185.4L388.9,186L387.5,186.5L387.9,187.3L388.1,188.3L389.2,189L390.4,190L389.8,191.2L389.1,191.5L389.5,193.2L389.3,193.6L388.7,193.1L387.7,193L386.3,193.5L384.4,193.4L384.2,194.1L383.1,193.4L382.5,193.5L380.3,192.7L379.9,193.3L378.2,193.2L378.4,191.4L379.3,189.7L376.4,189.2L375.4,188.6L375.5,187.5L375.1,186.9L375.3,185.2L374.8,182.6L376,182.6L376.5,181.6L376.9,179.3Z"/><path d="M390.5,177.8L391.7,177.1L394.6,175.9L397,175.1L399,175.5L399.2,176.1L401.1,176.1L403.5,176.4L407,176.4L408.1,176.6L408.6,177.4L408.9,178.5L409.6,179.5L409.7,180.5L408.6,181L409.4,182.1L409.6,183.2L410.9,185.4L410.8,186.1L409.8,186.4L408.3,188.5L408.7,189.2L408.5,189.5L406.4,188.5L405,188.9L404.1,188.6L402.9,189.2L401.8,188.3L401.4,188.5L400.9,188.5L399.8,187.2L398.3,187.1L398.1,186.3L396.7,186L396.4,186.6L395.3,186.1L395.4,185.4L393.8,185.2L392.8,184.4L391.9,182.8L392,182L391.4,180.6L390.6,179.7L391,179.1Z"/><path d="M637.3,206.6L636.5,205.4L637.5,205.3L635.9,202.2L634,200L635.2,199.1L638,199.6L637.7,197.1L636.6,194.3L636.7,193.4L636.2,191.1L633.4,191.8L632.3,192.8L629.2,192.8L626.7,190.4L623.1,188.6L619.1,187.8L616.6,185.3L614.7,183.8L613.2,182.7L610,180.2L607.6,179.3L604.1,178.5L601.6,178.6L599.5,179.1L598.8,180.3L600.3,180.9L601.3,182.3L600.8,183.1L600.9,185.7L601.6,186.8L599.8,188.4L596.8,187.5L594.6,187.7L593,186.8L591.6,186.6L589.8,188.4L587.4,188.8L585.9,189.4L583.1,189L581.3,189L579.3,187.7L576.6,186.5L574.4,186.2L572.1,186.5L570.5,187L567,185.9L565.5,184L562.8,183.4L560.9,183.1L558,182.1L557.5,184.7L559.1,186.1L558.1,187.9L554.9,187.3L552.9,187.2L550.9,186L548.8,185.9L546.6,185.2L544.2,186.4L541.5,188.5L539.6,189L538.9,189.2L537.1,187.6L534.7,188L533.3,186.9L531.7,186.4L530,185L528.7,184.5L526.2,185.2L522.7,183.7L522.3,185L514.9,178.7L511.5,176.7L511.8,176L508,178.3L506.2,178.5L505.8,177.1L502.9,176.2L501.1,176.9L499.3,174.3L495.6,173.8L494.4,174.8L489.9,175.7L489.3,176.3L482.3,177.2L481.8,178L483.8,179.7L482.2,180.4L482.8,181.1L481.4,182.3L485.2,184L485.1,185.2L482.3,185.1L482,185.8L479,184.5L475.9,184.6L474.1,185.6L471.4,184.6L466.5,182.9L463.4,183L460.1,185.7L460.4,187.5L457.9,186.1L457,188.8L457.7,189.4L457.1,191.3L459.2,193L460.7,192.9L462.4,194.6L462.5,196L463.7,196.4L463.1,197.9L461.2,198.3L459.8,201L462.2,203.4L462.4,205.1L465.3,208.2L464.3,209.2L464.1,209.9L463.1,209.7L461.3,208.1L460.7,208L459.3,207.4L458.4,206.4L456.4,205.8L455.2,206.3L454.7,205.8L451.6,204.5L448.4,204.1L446.6,203.7L446.4,204L443.3,201.8L440.8,200.8L438.7,199.3L440.2,198.9L441.5,196.8L440.1,195.7L441.1,195.4L442.9,194.7L442.8,194.2L441,194.6L440.9,193.4L441.8,192.7L443.7,192.5L443.9,191.7L443.1,190.3L443.6,189L443.5,188.2L440.3,187.4L439.2,187.4L437.7,186.2L436.2,186.6L433.5,185.7L433.5,185.3L432.5,184.2L430.9,184L430.6,183.3L431,182.8L429.4,181.3L427.5,181.6L426.8,181.5L426.4,182L425.7,181.9L424.9,180.3L424.3,179.5L424.6,179.3L426.2,179.4L426.8,178.8L426.2,178.1L424.7,177.7L424.8,177.3L423.9,176.8L422.4,175.2L422.6,174.5L422.2,173.4L420.2,172.8L419.3,173.1L418.9,172.4L416.8,171.8L415.9,170.4L415.5,169.2L414.5,168.7L415.1,167.9L414.1,165.6L415.2,164.2L414.8,163.8L416.6,162.5L414.5,161.4L417.5,159L419.1,157L419.5,155.8L416.5,154.2L416.8,152.7L414.8,150.9L415.5,149L412.9,146.4L414,144.7L411.1,143.2L410.9,141.7L412.2,141.5L414.8,140.6L416.3,139.8L419.5,141.2L424.2,141.7L431.4,144.2L433.1,145.2L433.7,146.8L432.2,147.9L429.6,148.5L421.3,146.8L420.2,147.1L423.4,148.8L423.9,149.8L424.6,152.2L427.1,152.9L428.7,153.5L428.6,152.4L427.2,151.4L428.1,150.5L432.7,151.9L434.1,151.4L432.3,149.7L435.6,147.5L437.3,147.6L439.2,148.4L439.6,146.8L437.7,145.5L438,144.1L436.2,142.8L441.2,143.5L442.7,144.7L440.7,145L441.2,146.3L442.8,147L445.3,146.5L445.1,145.1L448.2,144L453.3,142.1L454.6,142.2L453.5,143.6L455.7,143.8L456.6,143.1L459.7,143L461.8,142.1L464.4,143.4L465.5,141.9L463.1,140.7L463.6,139.9L468.8,140.6L471.6,141.3L479.1,143.8L479.5,142.7L477.1,141.5L476.8,141L474.7,140.8L474.6,139.8L472.7,138.1L472.2,137.4L474,135.5L473.7,133.5L474.6,133.1L479.2,133.7L480.4,134.9L480.1,136.6L481.6,137.3L483.1,138.8L484.7,141.8L487.4,143.1L487.6,144.6L486.2,147.8L488.4,148.2L488.6,147.3L490.1,146.8L489.9,145.6L490.7,144.6L488.9,143.3L488.7,141.8L486.8,141.7L485.6,140.4L485.4,138.3L482.1,136.5L483.9,135.1L482.5,133.6L483.2,133.5L484.9,134.7L485.8,136.7L487.8,137.1L486,135.6L488,134.7L491.3,134.6L495.2,135.8L492.4,134.1L490.4,131.8L492.8,131.4L496.7,131.5L499.9,131.2L497.6,130.2L498.2,128.8L499.9,128.8L501.9,127.8L505.7,127.5L505.6,127L509.4,126.8L511.2,127.2L513.4,126.2L516.2,126.2L515.6,125.4L516,124.5L518.5,123.7L521.9,124.4L520.5,124.8L524.3,125.2L525.9,126.1L526.7,125.6L531.2,125.7L535.9,126.6L538.1,127.4L539.1,128.4L538.1,129L535.3,130.1L534.9,130.7L537.2,131L540.1,131.6L541.1,131.2L543.4,132.5L543.5,132L545.6,131.6L551.1,132L552.7,133L559.8,133.3L557.8,131.7L561.7,132L564.2,132L568.2,133.1L570.6,134.5L570.8,135.4L575,137L578.6,137.9L577.3,135.7L581.2,136.6L583.2,136L587.2,136.7L587.6,136.1L590.7,136.4L586.8,134.4L587.7,133.5L604.2,134.9L607.4,136.1L614,137.8L620.1,137.4L623.8,137.7L626.6,138.6L628.7,140.2L631.6,140.8L633.2,140.4L636.1,140.3L639.8,140.8L642.7,140.5L648.5,142.5L649.5,141.8L646,140.4L645.3,139.4L651.5,140L654.8,139.9L661.2,140.9L665.1,141.9L678.6,150.9L677.8,151.9L675.3,151.7L678.6,153L682.3,154.9L684,155.5L685.6,156.5L686,157.1L681.9,156.6L679.2,158.4L678,158.6L677.3,160.3L676.5,161.7L677.2,162.8L672.5,161.2L670,163.1L668.1,162.2L667.6,163.2L664.7,162.9L666,164.5L666.5,166.8L667.6,167.8L670.4,168.3L674.1,171.9L672.4,172L673.8,174L675.7,175.1L673.7,176.3L675.9,179.2L673.5,179.8L675.4,182.3L674.7,184.7L672.4,182.9L668.1,179.3L661.5,173.8L658.9,170.4L659,168.9L657.8,167.8L660.1,167.2L660,164.2L660.3,161.7L661.3,159.8L658.6,156.5L656.7,156.7L658,158.7L656.5,161.3L651.6,158.4L647.8,159.2L647.8,163.1L651,164.6L647.6,165.3L644.9,165.5L643.2,163.8L639.9,163.4L638.9,164.6L632.8,164.1L627.4,164.9L626,169.6L623.9,175.4L627.3,175.7L629.6,177.2L631.9,177.8L632.1,176.6L634.4,176.7L639.6,179.5L641.5,181.6L642,184.1L644.3,187.1L646.4,191.1L646,194.8L646.5,196.6L645.8,199.6L644.9,202.5L644.6,204.1L642.7,205.6L641.4,205.6L639.3,204.4L637.7,206.3L637.8,207L637.9,207.1L637.5,207.1ZM403.9,174.2L406,174.7L406.9,175.1L406.8,175.8L407,176.4L403.5,176.4L401.1,176.1L401.4,175Z"/><path d="M408.7,167.9L408.7,166.5L408.1,166.7L406.7,165.9L406.3,164.5L408.6,163.8L410.8,163.5L412.9,163.9L414.8,163.8L415.2,164.2L414.1,165.6L415.1,167.9L414.5,168.7L412.9,168.6L411.1,167.7L410.2,167.5Z"/><path d="M414.5,161.4L411.2,161.6L408.1,162.4L405.2,162.9L403.9,161.6L402,160.8L402,158.5L400.8,156.4L401.5,155L402.8,153.6L406.4,151.1L407.5,150.6L407.1,149.6L404.4,148.5L403.7,147.6L403,144.2L400,142.7L397.6,141.6L398.5,141L400.6,142.2L402.7,142.1L404.7,142.6L406,141.6L406.5,140L408.9,139.3L411.2,140.1L410.9,141.7L411.1,143.2L414,144.7L412.9,146.4L415.5,149L414.8,150.9L416.8,152.7L416.5,154.2L419.5,155.8L419.1,157L417.5,159Z"/><path d="M404.4,148.5L401.6,149.2L400.2,150.8L400.7,152.2L398.2,154L395,156.1L394.1,159.4L395.7,161L397.6,162.4L396.3,165.1L394.4,165.6L394.1,169.7L393.3,172L391,171.8L390.1,173.7L387.9,173.8L387.1,171.5L385.2,168.7L383.5,165.3L384.2,163.9L385.6,162.3L386,159.5L384.7,158.3L384.3,155.2L385.3,153L387,153L387.5,152.1L386.8,151.3L389.2,148.1L390.5,145.6L391.4,144L393.1,144L393.3,142.8L396.6,143.1L396.6,141.7L397.6,141.6L400,142.7L403,144.2L403.7,147.6Z"/><path d="M637.8,216.5L641.1,219.5L642.5,221.2L643.9,224.2L643.7,225.7L642,226.2L640.7,227.2L638.8,227.5L637.9,226.1L637.5,224.1L635.3,221.4L636.7,221L634.2,218.7L634.2,218.5L635.2,218.6L635.5,217.4L637,217.3Z"/><path d="M624.7,213.8L623.8,215L621.8,215.7L622.4,214.5L621.4,213.5L622.2,211.8L620.4,210.4L619,211.3L617.5,213.1L617,214.8L615,214.9L614.5,216.1L616.4,217.9L618.3,218.3L618.9,219.5L621,220.2L622.6,218.4L624.9,219.4L626.4,219.5L627.3,220.8L624.6,221.6L624.2,223L622.6,224.3L622.3,226.1L625.2,227.5L627.1,230.1L629.3,232.5L631.5,234.5L632.2,236.5L631,237.2L632,238.6L633.6,239.4L633.9,241.5L633.9,243.6L632.8,243.8L631.9,246.6L631,250.1L629.6,253.2L627,255.6L624.3,257.8L621.8,258.1L620.7,259.3L619.7,258.4L618.7,259.7L615.8,261L613.5,261.4L613.1,264.2L611.9,264.3L611,262.4L611.4,261.4L608.2,260.6L607.2,261L603.6,257.8L601.5,257.3L600.2,256.3L598.6,257.7L596.4,258L594.6,258L593.5,258.6L592.4,259L593.2,262L592,261.9L591.7,261.3L591.5,260.2L589.9,261L588.9,260.5L587,259.5L587.4,257.4L585.9,256.9L584.9,254.5L582.6,254.9L582.3,251.8L584,249.6L583.7,247.5L583.2,245.4L582.1,244.8L580.9,243.3L579.7,243.5L577.2,243.1L577.7,242L576.3,240.4L574.9,241.5L572.9,240.8L570.7,242.5L569.2,244.4L567.4,244.8L566.3,244.1L565.1,244L563.4,243.4L562.3,244.1L561.3,246L560.6,243.9L559.4,244.5L556.7,244.2L554.1,243.6L552.1,242.5L550.2,242L549.2,240.7L547.9,240.3L545.3,238.6L543.3,237.8L542.6,238.5L539.1,236.6L536.5,235L535.2,232.1L536.9,232.5L536.7,231.1L535.4,229.8L535.1,227.7L532,224.6L528.1,223.5L526.9,221.5L525,220.3L524.7,220.1L524.4,219.6L523.7,218.1L523.4,217.1L522,216.5L521.3,216.7L520.1,214.3L520.1,213.1L521.7,211.9L523,211.4L525.4,211.7L525.6,210.1L528.2,209.8L528.6,208.8L531.5,207.4L531.6,206.8L530.8,205.3L532,204.6L528.4,200.2L532.1,199.1L533,198.6L532.5,194L536.9,194.8L537.6,193.7L536.5,191.1L538.1,190.9L538.9,189.2L539.6,189L540.9,190.8L543.2,192.1L546.6,193.1L548.9,195.1L549.5,198.1L550.7,199.2L553.4,199.6L556.3,200L559.6,201.6L561,201.9L563,204.3L564.9,205.8L567.2,205.7L571.8,206.3L574.4,206L576.7,206.4L580.5,207.9L583,207.9L584.3,208.7L586.2,207.3L589.1,206.4L592.2,206.3L594.2,205.4L595,204L596,203.2L595.2,202.3L594,201.3L594.2,199.7L595.5,199.9L597.9,200.4L599.2,199.1L601.8,198.1L602.3,196.4L603.3,195.7L606.1,195.3L607.9,195.6L607.6,194.7L604.6,192.9L602.5,192.1L601.5,193L599.3,192.7L598.3,193L597.2,191.9L597,189.4L596.8,187.5L599.8,188.4L601.6,186.8L600.9,185.7L600.8,183.1L601.3,182.3L600.3,180.9L598.8,180.3L599.5,179.1L601.6,178.6L604.1,178.5L607.6,179.3L610,180.2L613.2,182.7L614.7,183.8L616.6,185.3L619.1,187.8L623.1,188.6L626.7,190.4L629.2,192.8L632.3,192.8L633.4,191.8L636.2,191.1L636.7,193.4L636.6,194.3L637.7,197.1L638,199.6L635.2,199.1L634,200L635.9,202.2L637.5,205.3L636.5,205.4L637.3,206.6L635,205.1L635.1,206.6L632.5,207.7L633.6,209.1L631.7,209L630.2,208.1L629.8,210L628.2,211.4L627.3,213Z"/><path d="M598.1,285.5L595.9,284.3L594,284.3L594.1,282.3L592.1,282.3L592.2,285.1L591.3,289L590.7,291.3L591,293.2L592.5,293.2L593.6,295.6L594.2,297.9L595.5,299.4L596.9,299.7L598.2,301.1L597.5,302.1L596,302.4L595.8,301.1L593.8,300L593.4,300.4L592.5,299.4L592,298.1L590.7,296.6L589.5,295.4L589.2,297L588.7,295.5L588.9,293.9L589.4,291.4L590.3,288.7L591.3,286.2L590.2,283.9L590.1,282.6L589.7,281.2L587.9,279.1L587.3,277.8L588,277.3L588.5,275L587.4,273.3L585.7,271.4L584.3,269.1L585.2,268.6L585.8,265.8L587.4,265.7L588.5,264.6L589.7,264L590.8,264.8L591.2,266.3L592.8,266.5L592.6,269.2L593,271.6L595.2,270L595.9,270.5L597.2,270.4L597.6,269.5L599.3,269.7L601.4,271.8L601.9,274.4L604,276.6L604.2,278.9L603.6,280L601.4,279.6L598.5,280.1L597.3,282.3Z"/><path d="M470.6,239.1L469.3,239L467.8,238.8L466.4,241.3L462.3,241.1L455.4,235.8L451.9,234L449.2,233.3L447.9,230.1L452.4,227.4L452.8,224.2L452.3,222.3L453.4,221.7L454.2,220.1L455.1,219.7L457.7,220L458.5,220.7L459.5,220.2L461.4,223.3L462.9,224.1L463.3,225.6L462.4,226.5L462.2,228.6L464.1,231L467,232.5L468.4,234.5L468.3,236.4L469,236.4L469.2,237.8Z"/><path d="M470.7,242.7L471.8,245L473,245.6L473.5,246.5L475.1,247.6L475.4,248.7L475.2,249.5L475.6,250.4L476.4,251.1L476.7,252L477.1,252.7L477.8,253.2L478.5,253L479,254L479.1,254.6L480.2,257.2L487.1,258.5L487.5,258L488.7,259.8L487.6,265.1L481.1,267.7L474.6,268.7L472.5,269.8L471.1,272.6L470.1,273L469.4,272.2L468.6,272.3L466.4,272L465.9,271.8L463.3,271.8L462.7,272.1L461.7,271.4L461.2,272.7L461.5,273.8L460.5,274.6L460.2,273.5L459.4,272.7L459.2,271.7L458,270.7L456.6,268.5L455.9,266.4L454.2,264.6L453.1,264.2L451.5,261.7L451.1,259.9L451.1,258.3L449.6,255.4L448.5,254.4L447.3,253.9L446.4,252.4L446.5,251.8L445.8,250.4L445.1,249.8L444.1,247.9L442.5,245.8L441.3,244L440.1,244L440.4,242.6L440.4,241.7L440.6,240.6L443.1,241L444,240.2L444.4,239.3L446.1,238.9L446.3,238.1L447,237.6L444.5,235L448.8,233.7L449.2,233.3L451.9,234L455.4,235.8L462.3,241.1L466.4,241.3L468.4,241.6L469.1,242.8Z"/><path d="M422.5,203.3L421.6,204.4L421,206.2L421.9,207.7L420.1,207.3L418,208.1L416.2,209.7L414.6,208.8L413,209.5L411.5,209.4L411.1,207.7L410,206.9L410.3,206.5L410.1,206.2L410.3,205.4L411,204.6L409.9,203.4L409.6,202.5L410.1,201.9L410.8,203L411.6,202.8L413.2,203.2L416.3,203.3L417.3,202.7L419.6,202.1L421.3,203Z"/><path d="M404.5,197.1L403.2,196.9L401.7,197.6L401,198L399.2,197.5L397.6,196.4L396.9,196.1L396.5,195.2L396.1,195.2L396.7,193.6L396.2,193L397.4,193L397.4,192L398.5,192.6L399.3,192.9L401,192.6L401.1,192.1L401.9,192L402.8,191.6L403.1,191.8L404,191.4L404.4,190.9L405,190.7L407.3,191.5L407.7,191.2L408.9,191.9L409.1,192.6L407.9,193.1L407.2,194.9L406.1,196.6Z"/><path d="M396.1,195.2L395.8,195.6L394,195.7L393,196.3L391.3,196.1L388.3,195.4L387.8,194.5L385.8,195L385.6,195.5L384.3,195.1L383.3,195L382.4,194.6L382.6,193.9L382.5,193.5L383.1,193.4L384.2,194.1L384.4,193.4L386.3,193.5L387.7,193L388.7,193.1L389.3,193.6L389.5,193.2L389.1,191.5L389.8,191.2L390.4,190L392,190.9L393,189.8L393.7,189.6L395.4,190.4L396.3,190.3L397.3,190.8L397.2,191.1L397.4,192L397.4,193L396.2,193L396.7,193.6Z"/><path d="M396.3,217.5L395.6,219.5L396,220.3L395.6,221.7L393.9,220.7L392.8,220.4L389.7,219.1L390,217.7L392.5,218L394.7,217.7Z"/><path d="M382.5,209.7L383.8,211.6L383.6,215L382.7,214.8L381.8,215.7L381,215L380.8,211.9L380.3,210.4L381.4,210.5Z"/><path d="M433.1,225.6L434.2,225.5L434.6,224.9L436.1,224.9L438,224.1L436.7,225.2L437,225.9L434.9,227L433.8,226.7Z"/><path d="M446.2,135.3L447.6,134.8L447,133.7L449.2,131.9L447.6,131.6L450.3,129.8L449.3,128.9L452.1,127.8L456.3,126.6L461.1,126.2L463.1,125.5L465.8,125.2L467.5,126L467,126.6L462.3,127.6L458.3,128.5L454.7,130.5L453.6,132.5L452.2,134.5L453.5,136.3L457.6,138.1L456.7,138.3L451.2,138L450.3,137L447,136.4Z"/><path d="M429.4,119L432.1,118.4L432.3,118.3L431.6,119.1L431.2,119.4ZM432.9,118.1L433.6,117.9L436,118.2Z"/><path d="M509.1,121.5L506.2,121.7L501.4,121.2L498.1,120.5L495.4,119.2L493,118.8L495.2,117.7L497.8,117.3L501.6,118.1L507.2,119.8Z"/><path d="M518.1,122.6L510.7,123.3L510.1,120.8L511,120.6L512.3,120.7L517.5,121.8Z"/><path d="M575,126.8L579.2,126.9L586.5,127.9L587.7,129.4L581.9,129.4L580,129.9L575,128.5L573.6,127.2Z"/><path d="M588.7,128.1L592.1,128.4L596.9,128.9L596.4,129.7L593.6,129.5L589.4,128.7Z"/><path d="M591.6,132.8L589.2,132.8L585.6,132.5L585.2,132.4L585.5,131.6L587.2,131.4L590.6,132.2Z"/><path d="M655.4,137.2L654.4,136.5L655.9,136.3L658.4,137.8Z"/><path d="M70.1,136.3L71.9,136.3L73.1,136.9L69.9,137.7L67.6,137.8Z"/><path d="M649.1,185.3L654.7,189.8L651,189L652.6,192.6L656.5,195.2L657.7,197L655,195.5L655.1,197.5L653.2,195.3L651.6,192.8L649.4,190.1L648.4,188.2L645.8,184.8L642.5,182.3L639.8,178.9L640.6,177.8L638.7,176.6L639.3,176.3L641.3,177.9L644.1,180.3L646.2,182.8Z"/><path d="M47.4,150.9L60.9,141.9L62.4,143.6L63.6,145.8L61.4,147.2L61.7,147.8L63.7,146.1L67.9,146.5L68.3,148.6L65.2,149.6L62,149.8L58.8,152.1L57.4,152.6L55.9,152.5L55.7,151.7L54.3,151L55.3,150L54.1,149.6L51.6,149.9L51.9,149.1L53.5,148.3L50.6,148.8L49.8,149.9Z"/><path d="M613.6,268.5L611.9,269.8L609.9,269L609.5,266.7L610.4,265.5L612.7,264.8L614,264.8L614.7,265.8L613.9,267Z"/><path d="M639.4,230.3L640.7,229.8L640.7,230.3L639.7,230.6Z"/><path d="M603.8,320.1L604.2,321.9L604.9,323.4L606.6,323.6L607.7,325.3L607,328.6L606.7,332.6L604.2,332.6L602.3,330.5L599.4,328.3L598.5,326.7L596.9,324.6L595.8,322.7L594.1,319L592,316.8L591.3,314.6L590.5,312.5L588.3,310.9L587.1,308.7L585.3,307.2L582.8,304.3L582.5,303L584,303.1L587.6,303.6L589.7,306.1L591.6,307.9L592.9,309L595.2,311.8L597.5,311.9L599.5,313.6L600.8,315.8L602.6,317L601.7,319.2L603,320.1Z"/><path d="M613,335L617.4,335.3L618,334.2L622.2,335.5L622.9,337.1L626.4,337.6L629.1,339.2L626.4,340.2L623.9,339.1L621.8,339.2L619.5,339L617.4,338.5L614.8,337.5L613.1,337.3L612.1,337.6L608,336.5L607.6,335.4L605.5,335.2L607.2,332.7L610,332.8L611.8,333.9L612.8,334.1Z"/><path d="M651.9,313.6L650.1,316.2L648.4,316.7L646.2,316.2L642.3,316.3L640.3,316.7L640,318.7L642,321L643.3,319.8L647.6,318.9L647.4,320.1L646.4,319.7L645.4,321.3L643.3,322.3L645.4,325.6L644.9,326.5L646.8,329.5L646.7,331.2L645.5,332L644.6,331.1L645.8,328.9L643.5,330L643,329.2L643.3,328.2L641.8,326.7L642,324.2L640.5,325L640.5,328L640.4,331.7L638.9,332.1L638,331.4L638.8,328.9L638.5,326.4L637.6,326.4L636.9,324.6L637.9,322.9L638.3,320.8L639.5,316.9L640,315.8L641.9,313.9L643.7,314.7L646.6,315L649.3,314.9L651.5,313Z"/><path d="M634.2,338.5L634.9,339.1L636.4,338.9L636.9,340.1L634.2,340.6L632.6,340.9L631.3,340.9L632.2,339.4L633.5,339.4Z"/><path d="M628.9,338.8L631.4,339L630.8,340.5L629.4,340.3Z"/><path d="M642,339.6L643.6,339.4L645.7,338.4L645.2,339.9L641.7,340.6L638.7,340.3L638.8,339.3L640.6,338.8Z"/><path d="M640.4,343.3L639.2,344.1L636.3,342.3L638.5,341.7L639.7,342.6Z"/><path d="M650.3,340.5L650.5,341L650.4,341.8L648.8,343.8L646.7,344.4L646.5,344L646.8,343.2L647.9,341.6Z"/><path d="M659.9,314.3L659.8,316.6L658.6,316.4L658.3,318L659.2,319.3L658.6,319.7L657.6,318L656.9,314.7L657.4,312.6L658.1,311.6L658.3,313L659.7,313.3Z"/><path d="M663.9,325.4L664.6,327.4L662.7,326.3L660.8,326.1L659.5,326.3L657.9,326.2L658.5,324.7L661.4,324.6Z"/><path d="M656.4,326.3L655.5,327.2L653.9,326.7L653.5,325.6L655.9,325.5Z"/><path d="M672.1,332.4L673.2,332.3L673.3,333.8L672.1,335.2L671.8,333.5Z"/><path d="M664.4,336.6L666.1,336.1L665.7,337.9L664.6,338.2Z"/><path d="M607.3,321.5L609.1,322.5L608.8,324.9L607.5,324.1L606.1,322.3Z"/><path d="M611.2,324.1L612.8,324.6L612.3,325.7L611.1,325.4Z"/><path d="M587.2,313.6L588.9,314.9L588.7,315.7L587.5,314.7Z"/><path d="M590.5,319.9L592.1,321.7L591.6,322L590.7,321Z"/><path d="M634.7,306.5L633.5,308.9L635.3,311.3L634.9,312.5L637.6,314.9L634.8,315.3L634.1,317L634.1,319.4L631.9,321.2L631.8,323.8L630.8,327.8L630.4,326.9L627.8,328L626.9,326.4L625.3,326.3L624.2,325.4L621.4,326.4L620.6,325.1L619.1,325.3L617.2,325L616.9,321.5L615.8,320.7L614.7,318.5L614.4,316.2L614.6,313.8L616,312L616.4,313.8L618,315.3L619.5,314.7L620.9,314.9L622.3,313.6L623.4,313.4L625.6,314.1L627.4,313.6L628.5,309.9L629.4,309L630.1,306L632.7,306Z"/><path d="M688.2,324.1L687.1,341.1L685.3,339L683,338.5L682.4,339.2L679.4,339.3L680.6,337.2L682.1,336.4L681.7,333.6L680.7,331.4L676.4,329.2L674.5,328.9L671.2,326.5L670.4,327.8L669.5,328L669.1,327.1L669.1,325.9L667.4,324.7L669.9,323.7L671.6,323.8L671.4,323.1L668,323.1L667.2,321.5L665.1,321L664.1,319.8L667.3,319.1L668.4,318.3L672.1,319.3L672.5,320.3L673,324.5L675.4,326.1L677.4,323.3L680.1,321.7L682.1,321.7L684.1,322.7L685.8,323.6Z"/><path d="M691.4,353.2L691.9,355.3L693.6,354.3L694.6,357.6L694.7,359.9L695.5,363.7L695,365L697.5,368.2L700.1,370.6L699.7,371.2L700.6,372.8L700.8,375.7L701.8,375.1L702.5,376.2L703.1,375.8L702.8,378.6L704.8,381.2L706,383.3L705.9,385.4L705.5,386.9L704.8,388.5L705.1,390.7L704.1,393L701.7,396.6L701.1,398.1L699.8,399.9L697.8,402.3L695.5,403.6L693.7,405.6L692.4,406.9L690.6,409.2L689.1,410.5L687.5,412.4L686.2,414.2L685.9,415.1L684.1,415.9L681.7,416L679.1,417.1L677.5,418.1L675.6,419.2L674.5,418.1L673.4,417.6L674.5,416.3L673.1,416.8L670.2,418.6L668.7,417.9L667.7,417.5L666.6,417.3L664.9,416.6L664.4,415L665,413L665.7,410.6L664.6,410.6L662.7,410.3L664,409.1L664.4,407.1L662.5,408.9L660.3,409.4L662.1,408L663.1,406.4L664.6,405.2L665.2,403.2L662.5,405.5L660.7,406.3L658.9,408.4L657.7,407.4L658.4,406L657.9,404.1L657.1,403.1L657.8,402.5L655.6,400.9L654.1,400.8L652.5,399.6L648.4,399.8L644.9,401.5L642.4,401.6L640.3,401.5L637.5,402.8L635.4,403.4L634.4,404.8L633.2,405.8L631.3,405.9L629.8,406.1L628.1,405.6L626.4,405.9L624.8,406.1L623,407.4L622.4,407.3L621,408.1L619.6,408.9L618.1,408.8L616.7,408.8L615,407.1L614,406.6L614.6,405.1L615.8,404.8L616.4,404.2L616.7,403.2L617.6,401.4L617.9,399.9L617.6,397.2L617.7,395.7L618.2,394.3L617.8,392.6L618,391.8L617.3,390.8L617.6,388.7L616.8,386.6L616.8,385.5L617.5,386.7L617.3,384.2L618.3,385L618.7,386L619,384.7L618.3,382.6L618.3,381.8L617.9,381L618.4,379.5L619,378.8L619.6,377.5L619.6,376L620.9,374.1L620.7,376.1L622,374.3L624,373.5L625.3,372.3L627.2,371.4L628.2,371.2L628.8,371.5L630.8,370.5L632.2,370.2L632.6,369.6L633.3,369.4L634.5,369.5L637.1,368.7L638.5,367.6L639.3,366.2L640.9,364.8L641.2,363.8L641.5,362.4L643.4,360.2L644,362.4L645.1,361.9L644.5,360.7L645.4,359.4L646.3,360L646.9,358L648.3,356.7L649,355.6L650.2,355.2L650.4,354.5L651.4,354.8L651.5,354.1L652.5,353.7L653.7,353.4L655.2,354.6L656.3,356.1L657.7,356.2L659.1,356.4L658.8,355L660.2,352.9L661.3,352.2L661.1,351.5L662.3,350.1L663.7,349.1L664.9,349.4L666.9,348.9L667,347.6L665.4,346.7L666.7,346.4L668.1,347L669.2,348.1L671.1,348.7L671.8,348.5L673.1,349.3L674.5,348.5L675.3,348.8L675.9,348.3L676.8,349.6L676,351L675,352L674.2,352.1L674.3,353.1L673.5,354.4L672.5,355.7L672.5,356.5L674.1,357.9L675.7,358.8L676.7,359.7L678.1,361.2L678.8,361.2L679.8,361.9L680,362.7L682,363.6L683.7,362.7L684.4,361.3L685.1,360.1L685.6,358.7L686.7,356.6L686.5,355.3L686.8,354.6L686.8,353.1L687.4,351.1L687.9,350.6L687.7,349.7L688.4,348.3L689,346.9L689.1,346.1L690.1,345.2L690.6,346.5L690.6,348.1L691.1,348.4L691.1,349.5L691.7,350.8L691.7,352.3Z"/><path d="M670.9,423.8L672.4,424.7L673.8,424.3L675.7,423.8L676.9,424L675.1,427.1L673.8,428L672.1,430L671.9,429.3L669.2,431.1L668.9,431L667.6,430.9L667.8,428.7L668.7,427L668.9,424.7L669.7,423.6Z"/><path d="M659.2,410.7L661.6,410.3L662.3,411.1L660.6,411.5L658.9,411.3Z"/><path d="M662.1,346.8L664.2,346.6L664.6,347.6L662.4,348.1L661.4,347.6Z"/></g>
<g class="c4"><path d="M384.9,314.7L384.5,314.2L385.3,311.3L389,311.4L389,314.5L385.7,314.5Z"/><path d="M418,345.8L418.7,345.9L418.8,346.7L419.8,346.7L421.3,346.9L422,348.1L423.9,348.4L425.3,347.6L425.8,349L427.5,349.3L428.3,350.5L429.2,351.9L431,351.9L430.9,349.1L430.2,349.6L428.7,348.6L428,348.1L428.4,345.5L428.9,342.4L428.4,341.2L429.1,339.6L429.7,339.3L432.8,338.8L433.7,339.1L434.6,339.7L435.6,340.2L437,340.6L438.3,341.4L439.3,342.6L439.9,344.8L439.5,345.5L438.9,347.6L439.3,349.8L438.6,350.7L437.8,353.1L439,353.8L432,356L432.1,357.8L430.4,358.2L429,359.2L428.7,360.1L427.9,360.3L425.8,362.5L424.5,364.2L423.7,364.2L423,363.9L420.5,363.8L420.1,363.2L419.2,362.6L417.7,362.5L415.8,363.1L414.4,361.4L412.9,359.3L413.2,351L418,351L417.8,350.1L418.2,349.1L417.8,347.9L418.1,346.7Z"/><path d="M199.5,286.5L199.3,287.2L198,287.5L198.7,288.6L198.6,290L197.5,291.5L198.2,293.6L199.2,293.4L199.8,291.5L199.2,290.6L199.2,288.6L202.1,287.6L201.8,286.3L202.7,285.5L203.4,287.4L205,287.4L206.4,288.9L206.5,289.7L208.5,289.7L211,289.5L212.2,290.7L214,291L215.3,290.2L215.4,289.5L218.2,289.4L221,289.3L219,290.1L219.7,291.3L221.5,291.5L223.2,292.8L223.5,294.9L224.7,294.8L225.6,295.4L223.7,297L223.5,297.9L224.2,298.9L223.6,299.4L222.2,299.8L222.2,301L221.6,301.7L223.1,303.7L223.4,304.4L222.5,305.4L219.9,306.4L218.2,306.8L217.5,307.5L215.7,306.8L214,306.5L213.6,306.7L214.6,307.4L214.5,309.1L214.8,310.8L216.7,311L216.8,311.6L215.2,312.3L214.9,313.4L213.9,313.8L212.2,314.4L211.8,315.2L210,315.4L208.7,314L208,311.4L207.4,310.5L206.6,309.9L207.8,308.6L207.7,308.1L207.1,307.3L206.7,305.5L206.9,303.7L207.5,302.8L207.9,301.4L207.1,300.9L205.8,301.2L204.1,301.1L203.2,301.4L201.7,299.1L200.4,298.8L197.4,299L196.9,298.1L196.3,297.9L196.2,297.4L196.6,296.4L196.4,295.3L195.9,294.8L195.7,293.6L194.5,293.4L195.2,291.9L195.6,290L196.4,289L197.3,288.3L198,287Z"/><path d="M246.3,405.5L245.7,407.2L243.5,408.6L241.8,408.1L240.6,408.4L238.4,407.2L237,407.3L235.4,405.9L235.2,404.2L235.6,403.6L235.1,401L235.2,398.3L235.4,396.2L236.8,395.9L239.4,398L240.2,397.9L242.7,399.6L244.7,401L246.2,402.8L245.5,404Z"/><path d="M203.1,365.2L200.6,363.7L200.3,362.6L195.6,360L191.2,357.2L189.3,355.6L188.2,353.4L188.5,352.7L186.3,349.2L183.7,344.4L181.2,339.2L180.2,338L179.4,336.1L177.6,334.4L175.9,333.3L176.6,332.2L175.4,329.7L176,327.9L177.8,326.2L178.1,327.3L177.5,327.9L177.6,328.9L178.5,328.7L179.5,328.9L180.5,330.3L181.8,329.2L182.1,327.4L183.5,325.1L186.2,324.1L188.7,321.4L189.4,319.7L189.1,317.7L189.7,317.5L191.2,318.7L192,319.9L193.1,320.6L194.5,323.3L196.2,323.6L197.4,323L198.3,323.4L199.7,323.2L201.4,324.4L200,327.1L200.7,327.1L201.9,328.5L199.8,328.4L197.6,329.3L195.1,331.1L195,332.3L194.4,333.2L194.7,334.6L193.3,335.4L193.4,336.5L192.8,336.9L193.8,339.3L195.2,340.9L194.7,342L196.3,342.2L197.2,343.6L199.3,343.6L201.1,342.1L201.1,346.1L202.2,346.3L203.4,345.9L205.7,350.1L205.3,351L205.3,352.8L205.4,355L204.6,356.4L205.1,357.3L204.6,358.2L205.8,360.4L204.6,363.2L204.2,364.6Z"/><path d="M171.5,290.1L172.3,291.2L173.3,292.3L172.5,292.5L172.4,293.6L172.9,294L172.5,294.3L172.6,294.8L172.3,295.3L172.2,295.8L171,295.2L170.5,294.7L170.8,294.2L170.8,293.7L170.2,293L169.3,292.5L168.5,292.2L168.4,291.4L167.8,290.9L168,291.7L167.5,292.3L167,291.6L166.3,291.4L166,290.8L166,290L166.4,289.2L165.8,288.8L166.3,288.3L166.7,288L168.2,288.7L168.7,288.4L169.4,288.6L169.8,289.1L170.4,289.3L171,288.7Z"/><path d="M173.3,292.3L174.1,293.2L174,293.8L175,293.9L175.2,293.7L175.8,294.3L176.9,294.2L177.9,293.5L179.4,293L180.2,292.2L181.4,292.4L181.3,292.6L182.6,292.7L183.6,293.1L184.3,293.9L185.2,294.7L184.9,295L185.3,296.6L184.9,297.3L184.1,297.2L183.8,298.4L183,297.7L182.6,296.3L183.2,295.6L182.6,295.4L182.3,294.5L181.1,293.8L180.1,294L179.6,294.9L178.7,295.5L178.2,295.6L177.9,296.2L178.9,297.6L178.3,297.9L177.9,298.3L176.8,298.4L176.5,296.9L176.2,297.3L175.5,297.2L175,296.1L174.1,295.9L173.5,295.6L172.5,295.6L172.4,296.2L172.2,295.8L172.3,295.3L172.6,294.8L172.5,294.3L172.9,294L172.4,293.6L172.5,292.5Z"/><path d="M212.4,269L213.5,269.2L213.9,269.7L213.2,270.3L211.5,270.3L210.2,270.4L210.2,269.3L210.5,268.9Z"/><path d="M403.9,174.2L403.2,172.2L405.3,171.4L408.5,171.6L410.3,171.3L410.7,171.9L411.7,172L413.8,173.2L414.2,174.3L412.7,175.1L412.5,176.5L410.5,177.4L408.6,177.4L408.1,176.6L407,176.4L406.8,175.8L406.9,175.1L406,174.7Z"/><path d="M607.2,261L604.6,263.2L603.1,265.7L602.9,267.5L605,270.3L607.6,273.7L609.9,275.3L611.6,277.4L613.2,282.2L613.4,286.8L611.7,288.5L609.2,290.2L607.5,292.4L604.8,294.8L603.8,293.2L604.4,291.4L602.5,289.9L604.4,288.9L606.8,288.7L605.7,287.1L609.3,285.1L609.3,281.9L608.5,280.2L608.6,277.6L607.8,275.7L605.9,273.9L604.1,271.6L601.7,268.5L598.8,267L599.3,266.1L600.6,265.3L599.4,263.1L596.6,263L595.2,260.7L593.5,258.6L594.6,258L596.4,258L598.6,257.7L600.2,256.3L601.5,257.3L603.6,257.8Z"/><path d="M598.2,301.1L598.7,301.3L600.2,302.9L601.2,304.6L601.4,306.4L601.2,307.6L601.5,308.5L601.7,310L602.5,310.7L603.5,313L603.5,313.9L601.8,314.1L599.6,312.2L596.8,310.1L596.5,308.8L595.1,307L594.7,304.8L593.8,303.4L594,301.5L593.4,300.4L593.8,300L595.8,301.1L596,302.4L597.5,302.1Z"/><path d="M465.3,208.2L466.7,209.5L468.2,211.4L469.2,211.5L470,212.2L468.3,212.4L468.4,214.4L468.2,215.3L467.5,215.9L467.8,217.2L467.3,217.4L465.7,216L466.2,214.7L465.4,214L464.7,214.1L462.5,216.1L462.1,214.3L461.1,213.8L460,213.1L460.5,212.3L459.2,211.4L459.5,210.8L458.6,210.3L458,209.6L458.5,209.2L460.2,210L461.3,210.1L461.6,209.8L460.3,208.4L460.7,208L461.3,208.1L463.1,209.7L464.1,209.9L464.3,209.2Z"/><path d="M479.2,220.1L478.4,218.3L478.2,215.6L476.3,214.7L476.5,212.9L475,212.8L475,210.6L477.2,211.2L478.8,210.4L476.9,208.8L476,207.4L474.4,208L474.6,209.9L473.6,208.3L474.3,207.4L476.6,206.9L478.2,207.6L480.2,209.6L481.2,209.5L483.6,209.4L482.9,208.1L484.5,207.2L485.9,205.7L489.1,207.1L489.8,209.2L490.8,209.7L493,209.6L493.9,210.1L495.6,212.7L498.5,214.5L500.2,215.7L502.8,217L505.9,218.1L506.2,219.7L505.6,219.7L504.4,218.9L504.3,219.9L502.6,220.4L502.6,222.5L501.6,223.2L500,223.6L499.8,224.8L498.2,225.2L495.8,224.2L495.1,222L493.5,221.9L490.5,219.6L488.7,219.3L486.1,218L484.5,217.7L483.6,218.2L482.2,218.2L481,219.7Z"/><path d="M473.6,208.3L473.3,207.6L473.6,206.5L473,205.6L470.3,204.8L468.8,202.4L467.5,201.8L467.3,201L469.4,201.2L469,199.3L470.6,198.9L472.5,199.3L472.2,196.8L471.4,195.2L469.4,195.3L467.5,194.7L465.4,195.8L463.7,196.4L462.5,196L462.4,194.6L460.7,192.9L459.2,193L457.1,191.3L457.7,189.4L457,188.8L457.9,186.1L460.4,187.5L460.1,185.7L463.4,183L466.5,182.9L471.4,184.6L474.1,185.6L475.9,184.6L479,184.5L482,185.8L482.3,185.1L485.1,185.2L485.2,184L481.4,182.3L482.8,181.1L482.2,180.4L483.8,179.7L481.8,178L482.3,177.2L489.3,176.3L489.9,175.7L494.4,174.8L495.6,173.8L499.3,174.3L501.1,176.9L502.9,176.2L505.8,177.1L506.2,178.5L508,178.3L511.8,176L511.5,176.7L514.9,178.7L522.3,185L522.7,183.7L526.2,185.2L528.7,184.5L530,185L531.7,186.4L533.3,186.9L534.7,188L537.1,187.6L538.9,189.2L538.1,190.9L536.5,191.1L537.6,193.7L536.9,194.8L532.5,194L533,198.6L532.1,199.1L528.4,200.2L532,204.6L530.8,205.3L531.6,206.8L530.1,206.4L528.7,205.5L525.5,205.2L522,205.1L521.4,205.4L518,204.3L517,204.9L517.2,206.4L513.5,205.5L512.2,205.9L512.1,207L511,207.5L508.8,209.3L508.4,211.1L507.7,211.1L506.7,209.9L504,209.8L503,207.7L501.9,207.7L501.3,205.1L498.2,203.2L494.7,203.4L492.4,203.8L489.7,201.5L487.7,200.5L484,198.7L483.5,198.4L478.7,199.9L481.2,209.5L480.2,209.6L478.2,207.6L476.6,206.9L474.3,207.4Z"/><path d="M396.9,196.1L395.4,196.8L395.2,197.8L394.5,198.1L394.6,198.8L393.8,198.7L393.1,198.3L392.7,198.7L391.9,198.7L391.7,198.4L391.2,197.3L391.3,196.1L393,196.3L394,195.7L395.8,195.6L396.1,195.2L396.5,195.2Z"/><path d="M397.3,190.8L396.3,190.3L395.4,190.4L393.7,189.6L393,189.8L392,190.9L390.4,190L389.2,189L388.1,188.3L387.9,187.3L387.5,186.5L388.9,186L389.6,185.4L391,184.9L391.4,184.4L392,184.7L392.8,184.4L393.8,185.2L395.4,185.4L395.3,186.1L396.4,186.6L396.7,186L398.1,186.3L398.3,187.1L399.8,187.2L400.9,188.5L400.3,188.5L400,188.9L399.6,189.1L399.5,189.6L399.1,189.7L399.1,190L398.4,190.2L397.5,190.2Z"/><path d="M616,312L617.7,313L619.5,312.5L619.9,310.2L620.8,309.8L623.6,309.2L625.1,307.1L626.2,305.5L627.3,306.8L627.8,305.9L628.9,306L628.9,304.3L629,303.1L630.6,301.3L631.7,299.2L632.6,299.2L633.9,300.5L634,301.7L635.6,302.4L637.5,303.2L637.4,304.2L635.9,304.3L636.4,305.6L634.7,306.5L632.7,306L630.1,306L629.4,309L628.5,309.9L627.4,313.6L625.6,314.1L623.4,313.4L622.3,313.6L620.9,314.9L619.5,314.7L618,315.3L616.4,313.8Z"/></g>
<g class="c5"><path d="M396.5,257.6L394.9,258.6L393.6,257.1L390,256L389,254.3L387.2,253.1L386.2,253.6L385.3,252.2L385.2,251L383.9,249.2L384.7,248.1L384.5,246.4L384.8,245L384.6,243.8L384.9,241.7L384.8,240.5L384,238.1L385,237.5L385.2,236.4L384.9,235.3L386.4,234.3L387.1,233.5L388.1,232.7L388.2,230.7L390.4,231.4L391.9,231.4L394.8,232.4L396.6,232.9L397.2,235L399.4,235.8L402.8,237.1L405.5,238.2L407.2,236.6L407.2,233.5L409.1,231.6L411.2,231.4L414,232.7L415.8,233.7L418.4,234.8L417.7,236.1L418.2,237.2L417.7,238.8L418.5,240.9L419,250.2L419.4,258.9L419.5,259.8L419.5,260.7L419.7,265.1L417.4,265.1L417.4,266.4L417.1,266.2L407.9,261.1L398.7,256.2L396.8,257.2Z"/><path d="M461.7,284.1L462.2,284.9L462.5,286.2L460.9,287L462,287.4L461.2,288.8L460.2,288.5L458.8,288.4L458.7,287.6L458.5,286.9L459.3,285.7L460,284.5L461,284.8Z"/><path d="M389.4,360.9L389.9,358.6L390.6,356.2L390.9,354.9L391.6,352.6L392.1,351.5L393.5,350L394.2,348.6L394.4,346.8L394.4,345.2L393.8,344.5L393.1,342.9L392.6,341.3L393.3,339.8L392.7,338.2L392.2,335.6L391.1,333.8L391.4,333.2L392.3,332.9L393,332.9L393.8,332.6L400.6,332.7L401.1,334.6L401.8,336.2L402.3,337L403.2,338.4L404.7,338.2L405.5,337.8L406.7,338.2L407.1,337.5L407.7,336L409.1,335.9L409.2,335.4L410.4,335.4L410.2,336.4L413,336.3L413,338L413.5,339L413.1,340.6L413.3,342.2L414,343.1L413.8,346.2L414.4,346L415.4,346.1L416.8,345.7L418,345.8L418.1,346.7L417.8,347.9L418.2,349.1L417.8,350.1L418,351L413.2,351L412.9,359.3L414.4,361.4L415.8,363.1L411.6,364.1L406.1,363.8L404.6,362.5L395.3,362.6L395,362.8L393.7,361.6L392.2,361.5L390.8,362L389.7,362.5ZM390.6,330.6L390.4,330.5L391.4,329.3L392.1,328.9L392.9,329.8L392.1,330.3L391.7,331L391.7,332.1L391.1,332.4Z"/><path d="M390.4,330.5L388.6,327.7L390.3,326.3L389.5,324.5L390.3,323.9L391.8,323.5L392,322.4L393.2,323.6L395.3,323.8L396,322.5L396.3,320.8L396,318.7L394.9,317.2L395.9,314.2L395.4,313.6L393.6,313.9L393,312.5L393.2,311.4L396.1,311.5L397.9,312.2L399.8,312.8L399.9,311.4L401.1,308.9L402.5,307.6L404.1,308L405.5,308.2L405.4,309.7L404.7,311.1L404.3,312.8L404,315.1L404.1,316.5L403.7,317.5L403.7,318.4L403.4,319.2L401.9,320.5L400.9,321.8L399.8,324.4L399.9,326.5L399.3,327.4L398,328.6L396.6,330.3L395.7,329.8L395.6,329.1L394.3,329.1L393.6,330L392.9,329.8L392.1,328.9L391.4,329.3Z"/><path d="M388.6,327.7L386.3,325.1L384.7,322.8L383.3,320.2L383.3,319.4L383.9,318.5L384.5,316.5L384.9,314.7L385.7,314.5L389,314.5L389,311.4L390.1,311.2L391.5,311.6L392.5,311.3L393.2,311.4L393,312.5L393.6,313.9L395.4,313.6L395.9,314.2L394.9,317.2L396,318.7L396.3,320.8L396,322.5L395.3,323.8L393.2,323.6L392,322.4L391.8,323.5L390.3,323.9L389.5,324.5L390.3,326.3Z"/><path d="M396.5,257.6L396.8,257.2L398.7,256.2L407.9,261.1L417.1,266.2L417.4,266.4L417.5,276.5L415.5,276.3L414.6,278.3L414,279.9L414.5,280.5L413.7,281.3L414,282.4L413.5,283.4L413.3,284.4L414.1,284.3L414.6,285.3L414.6,286.8L415.2,287.3L415.4,288.2L414,288.6L412.9,289.7L411.3,292.5L409.1,293.8L406.9,293.6L406.2,293.8L406.5,294.8L405.3,295.7L404.3,296.7L401.4,297.7L400.9,297.1L400.5,297.1L398.7,297.7L397.8,295.4L397.4,294.3L396.4,293.9L395.1,292.4L395.5,291.1L396.6,291.4L397.2,291.2L398.5,291.2L397.2,288.9L397.3,287.1L397.1,285.4L396.2,283.7L395.5,283.9L395.5,283.1L394.1,281.5L394,279.8L394.9,276.3L397.8,273.9L397.8,270.5L398.6,265.2L399,264L398.1,263.2L398,262.3L397.1,261.6Z"/><path d="M369.6,183.8L370.6,183.1L372.2,179.5L374.8,178.4L376.5,178.5L376.9,179.3L376.5,181.6L376,182.6L374.8,182.6L375.3,185.2L374.2,184.6L372.8,183.5L371,184Z"/><path d="M379.4,174.8L378.6,173.4L378.4,170.9L378.7,170.3L379.2,169.5L380.8,169.4L381.4,168.7L382.9,168L382.9,169.3L382.4,170.1L382.7,170.8L383.8,171.1L383.4,172.1L382.8,171.8L381.5,173.6L382.1,174.8L380.9,175.1Z"/><path d="M383.5,165.3L382.2,163.8L378.7,166.6L376.2,167.2L373.6,166L372.8,163.4L372,157.9L373.6,156.4L378.2,154.4L381.6,152L384.5,148.8L388.1,144.5L390.7,142.8L394.9,140L398.3,139.1L401.1,139.2L403.2,137.4L406.2,137.5L409,137L414.6,138.6L412.6,139.2L414.8,140.6L412.2,141.5L410.9,141.7L411.2,140.1L408.9,139.3L406.5,140L406,141.6L404.7,142.6L402.7,142.1L400.6,142.2L398.5,141L397.6,141.6L396.6,141.7L396.6,143.1L393.3,142.8L393.1,144L391.4,144L390.5,145.6L389.2,148.1L386.8,151.3L387.5,152.1L387,153L385.3,153L384.3,155.2L384.7,158.3L386,159.5L385.6,162.3L384.2,163.9Z"/><path d="M490.8,254L492.2,254.9L493.9,255.3L495.2,255.7L496.4,257.2L497.1,258.1L497.9,258.5L498,259L497.3,260.6L497,261.3L496.1,262.2L495.5,263.9L494.4,263.8L494,264.4L493.8,265.7L494.2,267.5L494,267.8L492.9,267.8L491.6,268.8L491.5,270L491,270.6L489.6,270.6L488.8,271.2L488.8,272.3L487.8,273L486.5,272.8L485.1,273.7L484,273.8L483.2,272L481.1,267.7L487.6,265.1L488.7,259.8L487.5,258L487.5,256.9L488,255.9L487.9,254.8L488.9,254.3L488.5,253.9L488.5,252.2L489.6,252.2ZM489.1,248.3L489.4,248.6L489.3,249.6L489.1,250.1L488.6,249.2Z"/><path d="M384.3,195.1L384.2,196.2L383.3,196.6L381.8,196.3L381.4,197.3L380.4,197.4L380.1,197L379,197.8L378,197.9L377.1,197.4L376.3,196.3L375.4,196.7L375.4,195.5L376.8,194.1L376.7,193.5L377.6,193.7L378.2,193.2L379.9,193.3L380.3,192.7L382.5,193.5L382.6,193.9L382.4,194.6L383.3,195Z"/><path d="M375.1,186.9L375.5,187.5L375.4,188.6L374.9,188.6L374.4,188.4L374.6,187Z"/><path d="M350.9,177.5L351.2,179.3L349.6,181.5L346.1,183L343.3,182.6L345,180L344.2,177.5L346.9,175.6L348.4,174.4L348.8,175.7L348.3,177L349.5,177Z"/><path d="M387.3,173.2L386.3,175.2L384.2,173.8L383.9,172.8L386.6,172Z"/><path d="M381.8,174L382.7,173.2L383.8,173.7L383.6,174.6Z"/><path d="M384.8,120L385.2,119.4L387.3,119.3L389.3,120L394.4,121.3L391,122.1L390.5,123.5L389.2,123.9L388.9,125.5L387.1,125.5L383.6,124.4L384.9,123.7L382.5,123.1L379.4,121.5L378.1,120.1L381.9,119.4L382.8,120Z"/><path d="M402.3,119.3L400.5,120.3L396.3,120.5L392,120.2L391.6,119.7L389.5,119.7L387.8,118.9L392,118.4L394.2,118.8L395.5,118.3L399.2,118.7Z"/><path d="M399.8,123.5L396.7,124.2L393.9,123.8L394.8,123.3L393.7,122.7L396.7,122.3L397.5,123Z"/><path d="M626.2,305.5L627.1,304.5L629,303.1L628.9,304.3L628.9,306L627.8,305.9L627.3,306.8Z"/></g>
</g>
<g id="legend">
<text class="leg" x="239.3" y="510" text-anchor="middle" textLength="46" lengthAdjust="spacing">No data</text>
<line x1="239.4" y1="513.5" x2="239.4" y2="517" stroke="#999" stroke-width=".8"/>
<rect x="215.5" y="517" width="48" height="11.2" fill="url(#hatchL)" stroke="#c8c8c8" stroke-width=".8"/>
<path d="M282.9,522.6L288.3,517H341.4V528.2H288.3Z" fill="#542788"/>
<rect x="341.4" y="517" width="58.5" height="11.2" fill="#998ec3"/>
<rect x="399.9" y="517" width="58.5" height="11.2" fill="#d8daeb"/>
<rect x="458.4" y="517" width="58.5" height="11.2" fill="#fee0b6"/>
<rect x="516.9" y="517" width="58.5" height="11.2" fill="#f1a340"/>
<path d="M575.4,517H628.5L633.9,522.6L628.5,528.2H575.4Z" fill="#b35806"/>
<path d="M282.9,522.6L288.3,517H628.5L633.9,522.6L628.5,528.2H288.3Z" fill="none" stroke="#b0b0b0" stroke-width=".5"/>
<g stroke="#999" stroke-width=".7"><line x1="341.4" y1="513" x2="341.4" y2="528.2"/><line x1="399.9" y1="513" x2="399.9" y2="528.2"/><line x1="458.4" y1="513" x2="458.4" y2="528.2"/><line x1="516.9" y1="513" x2="516.9" y2="528.2"/><line x1="575.4" y1="513" x2="575.4" y2="528.2"/></g>
<text class="leg" x="341.9" y="510" text-anchor="middle">-10%</text>
<text class="leg" x="400.2" y="510" text-anchor="middle">-5%</text>
<text class="leg" x="458.7" y="510" text-anchor="middle">0%</text>
<text class="leg" x="517.2" y="510" text-anchor="middle">5%</text>
<text class="leg" x="575.6" y="510" text-anchor="middle">10%</text>
</g>
<text class="foot" x="16.3" y="561" font-weight="bold" textLength="72" lengthAdjust="spacingAndGlyphs">Data source:</text>
<text class="foot" x="92.4" y="561" textLength="660" lengthAdjust="spacing">National statistical organizations and central banks, OECD national accounts, and World Bank staff estimates (2026)</text>
<text class="foot" x="16.3" y="581.3" textLength="302" lengthAdjust="spacing">OurWorldinData.org/trade-and-globalization | CC BY</text>
</svg>
</body></html>
